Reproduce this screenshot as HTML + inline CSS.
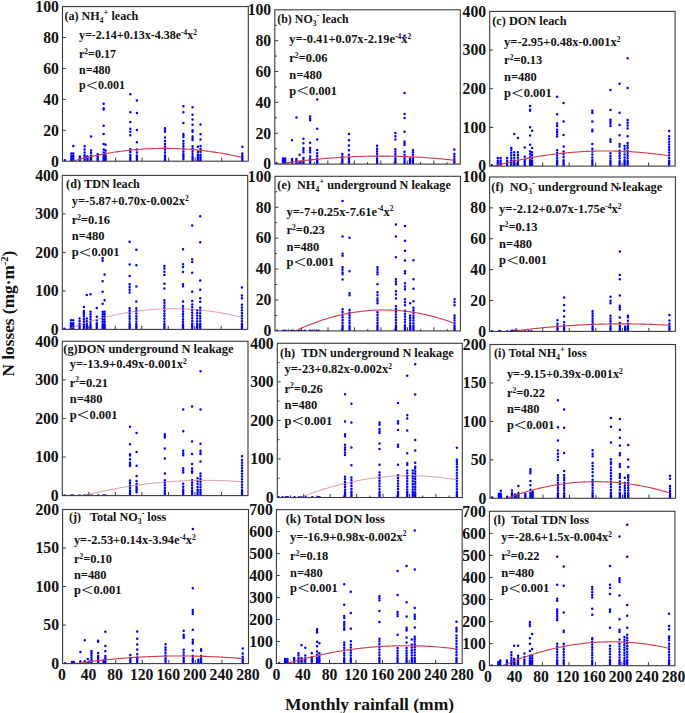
<!DOCTYPE html>
<html><head><meta charset="utf-8"><style>
html,body{margin:0;padding:0;background:#fff;width:685px;height:713px;overflow:hidden}
svg{display:block}
text{font-family:'Liberation Serif', serif;font-weight:bold;fill:#111}
</style></head><body>
<svg width="685" height="713" viewBox="0 0 685 713">
<clipPath id="cpa"><rect x="62.5" y="6.6" width="185.8" height="154.6"/></clipPath>
<g fill="#0000ff" clip-path="url(#cpa)"><path d="M64.82 160.27h0M71.39 161.00h0M71.39 158.62h0M71.39 156.05h0M71.39 153.47h0M71.39 161.00h0M71.39 159.53h0M71.39 157.87h0M71.39 156.20h0M73.32 146.05h0M73.32 161.00h0M73.32 158.62h0M73.32 156.05h0M73.32 153.47h0M73.32 161.00h0M73.32 159.53h0M73.32 157.87h0M73.32 156.20h0M79.89 161.00h0M79.89 158.88h0M79.89 156.56h0M79.89 161.00h0M79.89 159.65h0M79.89 158.11h0M79.89 156.56h0M84.60 146.20h0M84.60 161.00h0M84.60 158.26h0M84.60 155.33h0M84.60 152.39h0M84.60 149.45h0M84.60 161.00h0M84.60 159.53h0M84.60 157.87h0M84.60 156.20h0M87.38 161.00h0M87.38 158.88h0M87.38 156.56h0M87.38 161.00h0M87.38 159.65h0M87.38 158.11h0M87.38 156.56h0M91.10 136.46h0M91.10 161.00h0M91.10 158.49h0M91.10 155.79h0M91.10 153.08h0M91.10 150.38h0M91.10 161.00h0M91.10 159.53h0M91.10 157.87h0M91.10 156.20h0M97.67 161.00h0M97.67 158.88h0M97.67 156.56h0M97.67 154.24h0M97.67 161.00h0M97.67 159.53h0M97.67 157.87h0M97.67 156.20h0M103.64 103.84h0M103.64 108.17h0M103.64 109.56h0M103.64 125.64h0M103.64 133.99h0M103.64 143.88h0M103.64 161.00h0M103.64 158.26h0M103.64 155.33h0M103.64 152.39h0M103.64 149.45h0M103.64 161.00h0M103.64 159.53h0M103.64 157.87h0M103.64 156.20h0M105.63 144.81h0M105.63 150.53h0M105.63 161.00h0M105.63 158.62h0M105.63 156.05h0M105.63 153.47h0M105.63 161.00h0M105.63 159.53h0M105.63 157.87h0M105.63 156.20h0M130.32 94.26h0M130.32 112.35h0M130.32 122.09h0M130.32 128.73h0M130.32 131.67h0M130.32 135.23h0M130.32 160.89h0M130.32 157.95h0M130.32 155.02h0M130.32 152.08h0M130.32 149.14h0M130.32 160.89h0M130.32 159.22h0M130.32 157.56h0M130.32 155.89h0M136.89 100.44h0M136.89 112.96h0M136.89 129.97h0M136.89 142.18h0M136.89 161.00h0M136.89 158.30h0M136.89 155.40h0M136.89 152.50h0M136.89 149.60h0M136.89 161.00h0M136.89 159.53h0M136.89 157.87h0M136.89 156.20h0M165.02 128.27h0M165.02 130.28h0M165.02 131.83h0M165.02 137.55h0M165.02 161.00h0M165.02 158.33h0M165.02 155.46h0M165.02 152.59h0M165.02 149.72h0M165.02 146.84h0M165.02 143.97h0M165.02 141.10h0M165.02 161.00h0M165.02 159.53h0M165.02 157.87h0M165.02 156.20h0M183.40 106.32h0M183.40 112.35h0M183.40 123.01h0M183.40 133.99h0M183.40 135.54h0M183.40 137.08h0M183.40 159.19h0M183.40 156.61h0M183.40 154.02h0M183.40 151.44h0M183.40 148.85h0M183.40 146.27h0M183.40 143.69h0M183.40 141.10h0M183.40 159.19h0M183.40 157.52h0M183.40 155.86h0M183.40 154.19h0M192.56 107.24h0M192.56 114.82h0M192.56 119.46h0M192.56 124.71h0M192.56 130.28h0M192.56 131.83h0M192.56 136.46h0M192.56 138.32h0M192.56 140.02h0M192.56 161.00h0M192.56 158.70h0M192.56 156.20h0M192.56 153.70h0M192.56 151.20h0M192.56 148.70h0M192.56 146.20h0M192.56 161.00h0M192.56 159.53h0M192.56 157.87h0M192.56 156.20h0M197.87 146.67h0M197.87 160.58h0M197.87 157.70h0M197.87 154.81h0M197.87 151.92h0M197.87 160.58h0M197.87 158.91h0M197.87 157.25h0M197.87 155.58h0M200.52 124.41h0M200.52 134.14h0M200.52 139.56h0M200.52 160.58h0M200.52 157.68h0M200.52 154.77h0M200.52 151.86h0M200.52 148.96h0M200.52 146.05h0M200.52 160.58h0M200.52 158.91h0M200.52 157.25h0M200.52 155.58h0M242.33 146.67h0M242.33 160.58h0M242.33 158.26h0M242.33 155.94h0M242.33 153.62h0M242.33 160.58h0M242.33 158.91h0M242.33 157.25h0M242.33 155.58h0" fill="none" stroke="#0000ff" stroke-width="2.5" stroke-linecap="round"/></g>
<polyline clip-path="url(#cpa)" fill="none" stroke="#d23a44" stroke-width="1.1" points="64.82,163.43 66.30,162.99 67.78,162.55 69.27,162.12 70.75,161.70 72.23,161.28 73.71,160.87 75.19,160.47 76.67,160.07 78.15,159.68 79.63,159.30 81.11,158.92 82.59,158.55 84.07,158.19 85.55,157.83 87.04,157.48 88.52,157.13 90.00,156.80 91.48,156.47 92.96,156.14 94.44,155.83 95.92,155.51 97.40,155.21 98.88,154.91 100.36,154.62 101.84,154.34 103.33,154.06 104.81,153.79 106.29,153.53 107.77,153.27 109.25,153.02 110.73,152.77 112.21,152.53 113.69,152.30 115.17,152.08 116.65,151.86 118.13,151.65 119.61,151.44 121.10,151.25 122.58,151.05 124.06,150.87 125.54,150.69 127.02,150.52 128.50,150.35 129.98,150.20 131.46,150.04 132.94,149.90 134.42,149.76 135.90,149.63 137.39,149.50 138.87,149.39 140.35,149.27 141.83,149.17 143.31,149.07 144.79,148.98 146.27,148.89 147.75,148.81 149.23,148.74 150.71,148.67 152.19,148.62 153.67,148.56 155.16,148.52 156.64,148.48 158.12,148.45 159.60,148.42 161.08,148.40 162.56,148.39 164.04,148.38 165.52,148.38 167.00,148.39 168.48,148.40 169.96,148.42 171.45,148.45 172.93,148.48 174.41,148.52 175.89,148.57 177.37,148.62 178.85,148.69 180.33,148.75 181.81,148.83 183.29,148.91 184.77,148.99 186.25,149.09 187.73,149.18 189.22,149.29 190.70,149.40 192.18,149.52 193.66,149.65 195.14,149.78 196.62,149.92 198.10,150.07 199.58,150.22 201.06,150.38 202.54,150.55 204.02,150.72 205.51,150.90 206.99,151.09 208.47,151.28 209.95,151.48 211.43,151.68 212.91,151.90 214.39,152.11 215.87,152.34 217.35,152.57 218.83,152.81 220.31,153.06 221.79,153.31 223.28,153.57 224.76,153.83 226.24,154.11 227.72,154.38 229.20,154.67 230.68,154.96 232.16,155.26 233.64,155.57 235.12,155.88 236.60,156.20 238.08,156.52 239.57,156.85 241.05,157.19 242.53,157.54"/>
<rect x="62.5" y="6.6" width="185.80" height="154.60" fill="none" stroke="#3a3a3a" stroke-width="1.1"/>
<path d="M62.50 130.28h3.4M62.50 99.36h3.4M62.50 68.44h3.4M62.50 37.52h3.4M89.04 161.20v-3.6M115.59 161.20v-3.6M142.13 161.20v-3.6M168.67 161.20v-3.6M195.21 161.20v-3.6M221.76 161.20v-3.6" stroke="#3a3a3a" stroke-width="1" fill="none"/>
<text x="58.90" y="166.51" text-anchor="end" font-size="15.7">0</text>
<text x="58.90" y="135.59" text-anchor="end" font-size="15.7">20</text>
<text x="58.90" y="104.67" text-anchor="end" font-size="15.7">40</text>
<text x="58.90" y="73.75" text-anchor="end" font-size="15.7">60</text>
<text x="58.90" y="42.83" text-anchor="end" font-size="15.7">80</text>
<text x="58.90" y="11.91" text-anchor="end" font-size="15.7">100</text>
<text id="ta" x="64.4" y="19.60" font-size="12.1"><tspan>(a)</tspan><tspan> NH</tspan><tspan dy="3.15" font-size="7.5">4</tspan><tspan dy="-8.23" font-size="8.7">+</tspan><tspan dy="5.08"> leach</tspan></text>
<text id="ea" x="79" y="39.00" font-size="12.0"><tspan>y=-2.14+0.13x-4.38e</tspan><tspan dy="-4.08" font-size="7.5">-4</tspan><tspan dy="4.08">x</tspan><tspan dy="-4.08" font-size="7.5">2</tspan></text>
<text x="79" y="57.60" font-size="12.0"><tspan>r</tspan><tspan dy="-4.08" font-size="7.5">2</tspan><tspan dy="4.08">=0.17</tspan></text>
<text x="79" y="74.00" font-size="12.0">n=480</text>
<text x="79" y="89.2" font-size="12.0">p</text>
<path d="M96.83 81.76L87.47 85.48L96.83 89.20" fill="none" stroke="#111" stroke-width="0.9"/>
<text x="98.03" y="89.2" font-size="12.0">0.001</text>
<clipPath id="cpb"><rect x="274.8" y="9.8" width="185.5" height="154.29999999999998"/></clipPath>
<g fill="#0000ff" clip-path="url(#cpb)"><path d="M276.52 163.33h0M283.01 163.48h0M283.01 161.01h0M283.01 158.55h0M283.01 163.48h0M283.01 161.84h0M283.01 160.19h0M283.01 158.55h0M285.20 163.48h0M285.20 161.01h0M285.20 158.55h0M285.20 163.48h0M285.20 161.84h0M285.20 160.19h0M285.20 158.55h0M292.03 140.34h0M292.03 163.90h0M292.03 161.55h0M292.03 159.01h0M292.03 163.90h0M292.03 162.43h0M292.03 160.77h0M292.03 159.10h0M296.40 117.50h0M296.40 163.90h0M296.40 161.55h0M296.40 159.01h0M296.40 163.90h0M296.40 162.43h0M296.40 160.77h0M296.40 159.10h0M299.58 154.84h0M299.58 163.90h0M299.58 161.79h0M299.58 163.90h0M299.58 162.94h0M299.58 161.79h0M303.42 138.64h0M303.42 143.27h0M303.42 148.36h0M303.42 150.21h0M303.42 152.37h0M303.42 163.90h0M303.42 161.01h0M303.42 157.93h0M303.42 163.90h0M303.42 162.43h0M303.42 160.77h0M303.42 159.10h0M310.11 116.42h0M310.11 118.58h0M310.11 120.28h0M310.11 142.81h0M310.11 147.90h0M310.11 150.21h0M310.11 152.37h0M310.11 163.90h0M310.11 161.53h0M310.11 158.96h0M310.11 156.38h0M310.11 163.90h0M310.11 162.43h0M310.11 160.77h0M310.11 159.10h0M317.20 99.60h0M317.20 128.77h0M317.20 139.41h0M317.20 149.90h0M317.20 163.90h0M317.20 161.40h0M317.20 158.70h0M317.20 156.00h0M317.20 153.30h0M317.20 163.90h0M317.20 162.43h0M317.20 160.77h0M317.20 159.10h0M342.31 163.90h0M342.31 161.55h0M342.31 159.01h0M342.31 156.46h0M342.31 153.92h0M342.31 163.90h0M342.31 162.43h0M342.31 160.77h0M342.31 159.10h0M348.93 134.01h0M348.93 140.18h0M348.93 145.58h0M348.93 150.37h0M348.93 163.90h0M348.93 161.01h0M348.93 157.93h0M348.93 154.84h0M348.93 163.90h0M348.93 162.43h0M348.93 160.77h0M348.93 159.10h0M377.09 145.74h0M377.09 163.90h0M377.09 161.53h0M377.09 158.96h0M377.09 156.38h0M377.09 153.81h0M377.09 151.24h0M377.09 148.67h0M377.09 163.90h0M377.09 162.43h0M377.09 160.77h0M377.09 159.10h0M395.38 132.93h0M395.38 136.33h0M395.38 139.41h0M395.38 149.29h0M395.38 163.90h0M395.38 161.63h0M395.38 159.16h0M395.38 156.69h0M395.38 154.22h0M395.38 151.76h0M395.38 163.90h0M395.38 162.43h0M395.38 160.77h0M395.38 159.10h0M404.52 35.72h0M404.52 92.97h0M404.52 113.95h0M404.52 117.96h0M404.52 131.85h0M404.52 141.57h0M404.52 143.27h0M404.52 145.12h0M404.52 151.76h0M404.52 163.90h0M404.52 161.01h0M404.52 157.93h0M404.52 154.84h0M404.52 163.90h0M404.52 162.43h0M404.52 160.77h0M404.52 159.10h0M409.95 163.48h0M409.95 161.01h0M409.95 158.55h0M409.95 163.48h0M409.95 161.84h0M409.95 160.19h0M409.95 158.55h0M412.93 150.21h0M412.93 152.37h0M412.93 163.90h0M412.93 161.01h0M412.93 157.93h0M412.93 154.84h0M412.93 163.90h0M412.93 162.43h0M412.93 160.77h0M412.93 159.10h0M454.34 149.44h0M454.34 154.07h0M454.34 163.90h0M454.34 161.58h0M454.34 159.06h0M454.34 156.54h0M454.34 163.90h0M454.34 162.43h0M454.34 160.77h0M454.34 159.10h0" fill="none" stroke="#0000ff" stroke-width="2.5" stroke-linecap="round"/></g>
<polyline clip-path="url(#cpb)" fill="none" stroke="#d23a44" stroke-width="1.1" points="277.12,164.36 278.60,164.12 280.08,163.89 281.55,163.67 283.03,163.44 284.51,163.22 285.99,163.00 287.47,162.79 288.95,162.58 290.43,162.37 291.90,162.17 293.38,161.97 294.86,161.77 296.34,161.58 297.82,161.39 299.30,161.20 300.77,161.02 302.25,160.84 303.73,160.66 305.21,160.49 306.69,160.32 308.17,160.15 309.65,159.99 311.12,159.83 312.60,159.67 314.08,159.52 315.56,159.37 317.04,159.22 318.52,159.08 319.99,158.94 321.47,158.80 322.95,158.67 324.43,158.54 325.91,158.41 327.39,158.29 328.87,158.17 330.34,158.05 331.82,157.94 333.30,157.83 334.78,157.72 336.26,157.62 337.74,157.52 339.21,157.43 340.69,157.33 342.17,157.24 343.65,157.16 345.13,157.07 346.61,157.00 348.09,156.92 349.56,156.85 351.04,156.78 352.52,156.71 354.00,156.65 355.48,156.59 356.96,156.53 358.44,156.48 359.91,156.43 361.39,156.39 362.87,156.35 364.35,156.31 365.83,156.27 367.31,156.24 368.78,156.21 370.26,156.19 371.74,156.16 373.22,156.14 374.70,156.13 376.18,156.12 377.66,156.11 379.13,156.10 380.61,156.10 382.09,156.10 383.57,156.11 385.05,156.12 386.53,156.13 388.00,156.14 389.48,156.16 390.96,156.18 392.44,156.21 393.92,156.24 395.40,156.27 396.88,156.30 398.35,156.34 399.83,156.38 401.31,156.43 402.79,156.48 404.27,156.53 405.75,156.59 407.22,156.64 408.70,156.71 410.18,156.77 411.66,156.84 413.14,156.91 414.62,156.99 416.10,157.07 417.57,157.15 419.05,157.24 420.53,157.32 422.01,157.42 423.49,157.51 424.97,157.61 426.45,157.71 427.92,157.82 429.40,157.93 430.88,158.04 432.36,158.16 433.84,158.28 435.32,158.40 436.79,158.53 438.27,158.66 439.75,158.79 441.23,158.92 442.71,159.06 444.19,159.21 445.67,159.35 447.14,159.50 448.62,159.66 450.10,159.81 451.58,159.97 453.06,160.13 454.54,160.30"/>
<rect x="274.8" y="9.8" width="185.50" height="154.30" fill="none" stroke="#3a3a3a" stroke-width="1.1"/>
<path d="M274.80 148.67h2.2M274.80 133.24h3.4M274.80 117.81h2.2M274.80 102.38h3.4M274.80 86.95h2.2M274.80 71.52h3.4M274.80 56.09h2.2M274.80 40.66h3.4M274.80 25.23h2.2M288.05 164.10v-2.0M301.30 164.10v-3.6M314.55 164.10v-2.0M327.80 164.10v-3.6M341.05 164.10v-2.0M354.30 164.10v-3.6M367.55 164.10v-2.0M380.80 164.10v-3.6M394.05 164.10v-2.0M407.30 164.10v-3.6M420.55 164.10v-2.0M433.80 164.10v-3.6M447.05 164.10v-2.0" stroke="#3a3a3a" stroke-width="1" fill="none"/>
<text x="271.20" y="169.41" text-anchor="end" font-size="15.7">0</text>
<text x="271.20" y="138.55" text-anchor="end" font-size="15.7">20</text>
<text x="271.20" y="107.69" text-anchor="end" font-size="15.7">40</text>
<text x="271.20" y="76.83" text-anchor="end" font-size="15.7">60</text>
<text x="271.20" y="45.97" text-anchor="end" font-size="15.7">80</text>
<text x="271.20" y="15.11" text-anchor="end" font-size="15.7">100</text>
<text id="tb" x="277.3" y="22.50" font-size="11.9"><tspan>(b)</tspan><tspan> NO</tspan><tspan dy="3.09" font-size="7.5">3</tspan><tspan dy="-8.09" font-size="8.6">-</tspan><tspan dy="5.00"> leach</tspan></text>
<text id="eb" x="289.3" y="43.40" font-size="12.45"><tspan>y=-0.41+0.07x-2.19e</tspan><tspan dy="-4.23" font-size="7.5">-4</tspan><tspan dy="4.23">x</tspan><tspan dy="-4.23" font-size="7.5">2</tspan></text>
<text x="289.3" y="62.00" font-size="12.45"><tspan>r</tspan><tspan dy="-4.23" font-size="7.5">2</tspan><tspan dy="4.23">=0.06</tspan></text>
<text x="289.3" y="78.60" font-size="12.45">n=480</text>
<text x="289.3" y="94.5" font-size="12.45">p</text>
<path d="M307.73 86.78L298.02 90.64L307.73 94.50" fill="none" stroke="#111" stroke-width="0.9"/>
<text x="308.93" y="94.5" font-size="12.45">0.001</text>
<clipPath id="cpc"><rect x="489.7" y="11.4" width="185.40000000000003" height="154.7"/></clipPath>
<g fill="#0000ff" clip-path="url(#cpc)"><path d="M491.82 165.33h0M497.78 165.90h0M497.78 163.39h0M497.78 160.69h0M497.78 157.98h0M497.78 165.90h0M497.78 164.43h0M497.78 162.77h0M497.78 161.10h0M500.63 165.90h0M500.63 163.39h0M500.63 160.69h0M500.63 157.98h0M500.63 165.90h0M500.63 164.43h0M500.63 162.77h0M500.63 161.10h0M507.11 165.90h0M507.11 163.39h0M507.11 160.69h0M507.11 157.98h0M507.11 165.90h0M507.11 164.43h0M507.11 162.77h0M507.11 161.10h0M511.29 148.00h0M511.29 165.90h0M511.29 163.46h0M511.29 160.81h0M511.29 158.17h0M511.29 155.53h0M511.29 152.89h0M511.29 150.24h0M511.29 165.90h0M511.29 164.43h0M511.29 162.77h0M511.29 161.10h0M514.27 134.12h0M514.27 165.90h0M514.27 163.32h0M514.27 160.53h0M514.27 157.75h0M514.27 154.96h0M514.27 152.18h0M514.27 165.90h0M514.27 164.43h0M514.27 162.77h0M514.27 161.10h0M517.91 137.91h0M517.91 165.90h0M517.91 163.32h0M517.91 160.53h0M517.91 157.75h0M517.91 154.96h0M517.91 152.18h0M517.91 165.90h0M517.91 164.43h0M517.91 162.77h0M517.91 161.10h0M524.73 147.42h0M524.73 165.90h0M524.73 163.01h0M524.73 159.91h0M524.73 156.82h0M524.73 165.90h0M524.73 164.43h0M524.73 162.77h0M524.73 161.10h0M530.09 105.92h0M530.09 109.63h0M530.09 110.79h0M530.09 127.23h0M530.09 135.39h0M530.09 144.71h0M530.09 165.90h0M530.09 163.16h0M530.09 160.22h0M530.09 157.28h0M530.09 154.34h0M530.09 151.40h0M530.09 165.90h0M530.09 164.43h0M530.09 162.77h0M530.09 161.10h0M532.08 130.71h0M532.08 148.00h0M532.08 165.90h0M532.08 163.32h0M532.08 160.53h0M532.08 157.75h0M532.08 154.96h0M532.08 152.18h0M532.08 165.90h0M532.08 164.43h0M532.08 162.77h0M532.08 161.10h0M557.11 96.72h0M557.11 114.20h0M557.11 123.56h0M557.11 125.88h0M557.11 129.75h0M557.11 132.07h0M557.11 134.39h0M557.11 136.51h0M557.11 165.90h0M557.11 163.46h0M557.11 160.81h0M557.11 158.17h0M557.11 155.53h0M557.11 152.89h0M557.11 150.24h0M557.11 165.90h0M557.11 164.43h0M557.11 162.77h0M557.11 161.10h0M563.60 102.91h0M563.60 121.39h0M563.60 135.01h0M563.60 146.41h0M563.60 165.90h0M563.60 163.16h0M563.60 160.22h0M563.60 157.28h0M563.60 154.34h0M563.60 151.40h0M563.60 165.90h0M563.60 164.43h0M563.60 162.77h0M563.60 161.10h0M592.33 110.79h0M592.33 113.12h0M592.33 121.39h0M592.33 129.75h0M592.33 131.29h0M592.33 144.09h0M592.33 165.90h0M592.33 163.20h0M592.33 160.30h0M592.33 157.40h0M592.33 154.50h0M592.33 151.60h0M592.33 148.70h0M592.33 165.90h0M592.33 164.43h0M592.33 162.77h0M592.33 161.10h0M610.47 90.03h0M610.47 110.02h0M610.47 119.69h0M610.47 121.62h0M610.47 123.56h0M610.47 125.88h0M610.47 139.41h0M610.47 141.73h0M610.47 165.90h0M610.47 163.55h0M610.47 160.99h0M610.47 158.44h0M610.47 155.89h0M610.47 153.34h0M610.47 165.90h0M610.47 164.43h0M610.47 162.77h0M610.47 161.10h0M619.61 83.72h0M619.61 112.73h0M619.61 125.10h0M619.61 135.16h0M619.61 144.06h0M619.61 146.38h0M619.61 165.90h0M619.61 163.52h0M619.61 160.94h0M619.61 158.37h0M619.61 155.79h0M619.61 153.21h0M619.61 150.63h0M619.61 165.90h0M619.61 164.43h0M619.61 162.77h0M619.61 161.10h0M624.58 145.99h0M624.58 165.90h0M624.58 163.20h0M624.58 160.30h0M624.58 157.40h0M624.58 154.50h0M624.58 151.60h0M624.58 148.70h0M624.58 165.90h0M624.58 164.43h0M624.58 162.77h0M624.58 161.10h0M627.62 58.31h0M627.62 87.98h0M627.62 120.08h0M627.62 122.78h0M627.62 125.49h0M627.62 128.59h0M627.62 136.32h0M627.62 165.90h0M627.62 163.52h0M627.62 160.94h0M627.62 158.36h0M627.62 155.79h0M627.62 153.21h0M627.62 150.63h0M627.62 148.05h0M627.62 145.47h0M627.62 142.89h0M627.62 165.90h0M627.62 164.43h0M627.62 162.77h0M627.62 161.10h0M669.14 130.91h0M669.14 165.90h0M669.14 163.39h0M669.14 160.69h0M669.14 157.98h0M669.14 155.27h0M669.14 152.56h0M669.14 149.86h0M669.14 147.15h0M669.14 144.44h0M669.14 141.73h0M669.14 139.03h0M669.14 136.32h0M669.14 165.90h0M669.14 164.43h0M669.14 162.77h0M669.14 161.10h0" fill="none" stroke="#0000ff" stroke-width="2.5" stroke-linecap="round"/></g>
<polyline clip-path="url(#cpc)" fill="none" stroke="#d23a44" stroke-width="1.1" points="492.02,166.60 493.50,166.19 494.97,165.80 496.45,165.40 497.93,165.02 499.41,164.63 500.88,164.26 502.36,163.88 503.84,163.52 505.32,163.16 506.79,162.80 508.27,162.45 509.75,162.11 511.23,161.77 512.71,161.43 514.18,161.10 515.66,160.78 517.14,160.46 518.62,160.14 520.09,159.84 521.57,159.53 523.05,159.24 524.53,158.94 526.00,158.66 527.48,158.37 528.96,158.10 530.44,157.83 531.91,157.56 533.39,157.30 534.87,157.04 536.35,156.79 537.83,156.55 539.30,156.31 540.78,156.07 542.26,155.84 543.74,155.62 545.21,155.40 546.69,155.19 548.17,154.98 549.65,154.78 551.12,154.58 552.60,154.39 554.08,154.20 555.56,154.02 557.04,153.84 558.51,153.67 559.99,153.50 561.47,153.34 562.95,153.19 564.42,153.04 565.90,152.89 567.38,152.75 568.86,152.62 570.33,152.49 571.81,152.37 573.29,152.25 574.77,152.14 576.25,152.03 577.72,151.93 579.20,151.83 580.68,151.74 582.16,151.65 583.63,151.57 585.11,151.49 586.59,151.42 588.07,151.36 589.54,151.30 591.02,151.24 592.50,151.19 593.98,151.15 595.46,151.11 596.93,151.07 598.41,151.04 599.89,151.02 601.37,151.00 602.84,150.99 604.32,150.98 605.80,150.98 607.28,150.98 608.75,150.99 610.23,151.01 611.71,151.02 613.19,151.05 614.67,151.08 616.14,151.11 617.62,151.15 619.10,151.20 620.58,151.25 622.05,151.30 623.53,151.36 625.01,151.43 626.49,151.50 627.96,151.58 629.44,151.66 630.92,151.75 632.40,151.84 633.87,151.94 635.35,152.04 636.83,152.15 638.31,152.27 639.79,152.38 641.26,152.51 642.74,152.64 644.22,152.77 645.70,152.91 647.17,153.06 648.65,153.21 650.13,153.37 651.61,153.53 653.08,153.69 654.56,153.87 656.04,154.04 657.52,154.23 659.00,154.41 660.47,154.61 661.95,154.80 663.43,155.01 664.91,155.22 666.38,155.43 667.86,155.65 669.34,155.88"/>
<rect x="489.7" y="11.4" width="185.40" height="154.70" fill="none" stroke="#3a3a3a" stroke-width="1.1"/>
<path d="M489.70 127.42h3.4M489.70 88.75h3.4M489.70 50.07h3.4M516.19 166.10v-3.6M542.67 166.10v-3.6M569.16 166.10v-3.6M595.64 166.10v-3.6M622.13 166.10v-3.6M648.61 166.10v-3.6" stroke="#3a3a3a" stroke-width="1" fill="none"/>
<text x="486.10" y="171.41" text-anchor="end" font-size="15.7">0</text>
<text x="486.10" y="132.73" text-anchor="end" font-size="15.7">100</text>
<text x="486.10" y="94.06" text-anchor="end" font-size="15.7">200</text>
<text x="486.10" y="55.38" text-anchor="end" font-size="15.7">300</text>
<text x="486.10" y="16.71" text-anchor="end" font-size="15.7">400</text>
<text id="tc" x="492.2" y="25.00" font-size="12.3"><tspan>(c) DON leach</tspan></text>
<text id="ec" x="504.1" y="46.20" font-size="12.45"><tspan>y=-2.95+0.48x-0.001x</tspan><tspan dy="-4.23" font-size="7.5">2</tspan></text>
<text x="504.1" y="64.20" font-size="12.45"><tspan>r</tspan><tspan dy="-4.23" font-size="7.5">2</tspan><tspan dy="4.23">=0.13</tspan></text>
<text x="504.1" y="80.60" font-size="12.45">n=480</text>
<text x="504.1" y="97.0" font-size="12.45">p</text>
<path d="M522.53 89.28L512.82 93.14L522.53 97.00" fill="none" stroke="#111" stroke-width="0.9"/>
<text x="523.73" y="97.0" font-size="12.45">0.001</text>
<clipPath id="cpd"><rect x="62.3" y="175.4" width="185.39999999999998" height="153.99999999999997"/></clipPath>
<g fill="#0000ff" clip-path="url(#cpd)"><path d="M64.42 328.63h0M70.91 329.20h0M70.91 326.32h0M70.91 323.24h0M70.91 320.16h0M70.91 329.20h0M70.91 327.73h0M70.91 326.07h0M70.91 324.40h0M73.23 329.20h0M73.23 326.32h0M73.23 323.24h0M73.23 320.16h0M73.23 329.20h0M73.23 327.73h0M73.23 326.07h0M73.23 324.40h0M79.58 329.20h0M79.58 326.70h0M79.58 324.01h0M79.58 321.31h0M79.58 318.62h0M79.58 329.20h0M79.58 327.73h0M79.58 326.07h0M79.58 324.40h0M83.89 306.92h0M83.89 310.92h0M83.89 312.84h0M83.89 314.38h0M83.89 329.20h0M83.89 326.83h0M83.89 324.27h0M83.89 321.70h0M83.89 319.13h0M83.89 316.57h0M83.89 314.00h0M83.89 329.20h0M83.89 327.73h0M83.89 326.07h0M83.89 324.40h0M86.80 294.90h0M86.80 329.20h0M86.80 326.70h0M86.80 324.01h0M86.80 321.31h0M86.80 318.62h0M86.80 329.20h0M86.80 327.73h0M86.80 326.07h0M86.80 324.40h0M90.51 294.29h0M90.51 329.20h0M90.51 326.87h0M90.51 324.34h0M90.51 321.81h0M90.51 319.28h0M90.51 316.75h0M90.51 314.22h0M90.51 311.69h0M90.51 329.20h0M90.51 327.73h0M90.51 326.07h0M90.51 324.40h0M96.80 308.11h0M96.80 316.69h0M96.80 329.20h0M96.80 326.32h0M96.80 323.24h0M96.80 320.16h0M96.80 329.20h0M96.80 327.73h0M96.80 326.07h0M96.80 324.40h0M102.62 258.17h0M102.62 260.87h0M102.62 281.27h0M102.62 291.67h0M102.62 303.72h0M102.62 329.20h0M102.62 326.87h0M102.62 324.34h0M102.62 321.81h0M102.62 319.28h0M102.62 316.75h0M102.62 314.22h0M102.62 311.69h0M102.62 329.20h0M102.62 327.73h0M102.62 326.07h0M102.62 324.40h0M104.61 274.42h0M104.61 300.29h0M104.61 329.20h0M104.61 326.87h0M104.61 324.34h0M104.61 321.81h0M104.61 319.28h0M104.61 316.75h0M104.61 314.22h0M104.61 311.69h0M104.61 329.20h0M104.61 327.73h0M104.61 326.07h0M104.61 324.40h0M129.64 241.70h0M129.64 264.41h0M129.64 275.92h0M129.64 284.36h0M129.64 287.05h0M129.64 289.75h0M129.64 292.59h0M129.64 329.20h0M129.64 326.75h0M129.64 324.11h0M129.64 321.46h0M129.64 318.81h0M129.64 316.17h0M129.64 313.52h0M129.64 310.87h0M129.64 308.22h0M129.64 329.20h0M129.64 327.73h0M129.64 326.07h0M129.64 324.40h0M136.33 249.70h0M136.33 265.18h0M136.33 286.51h0M136.33 301.49h0M136.33 329.20h0M136.33 326.75h0M136.33 324.11h0M136.33 321.46h0M136.33 318.81h0M136.33 316.17h0M136.33 313.52h0M136.33 310.87h0M136.33 308.22h0M136.33 329.20h0M136.33 327.73h0M136.33 326.07h0M136.33 324.40h0M164.40 265.88h0M164.40 268.57h0M164.40 271.65h0M164.40 275.12h0M164.40 283.70h0M164.40 288.59h0M164.40 329.20h0M164.40 326.74h0M164.40 324.08h0M164.40 321.42h0M164.40 318.76h0M164.40 316.10h0M164.40 313.44h0M164.40 310.78h0M164.40 308.12h0M164.40 305.46h0M164.40 302.80h0M164.40 300.14h0M164.40 329.20h0M164.40 327.73h0M164.40 326.07h0M164.40 324.40h0M183.01 249.13h0M183.01 264.33h0M183.01 267.03h0M183.01 271.92h0M183.01 284.36h0M183.01 286.28h0M183.01 301.49h0M183.01 329.20h0M183.01 326.83h0M183.01 324.27h0M183.01 321.70h0M183.01 319.13h0M183.01 316.57h0M183.01 314.00h0M183.01 311.43h0M183.01 308.87h0M183.01 306.30h0M183.01 329.20h0M183.01 327.73h0M183.01 326.07h0M183.01 324.40h0M192.21 225.60h0M192.21 259.33h0M192.21 262.02h0M192.21 272.81h0M192.21 291.67h0M192.21 300.91h0M192.21 329.20h0M192.21 326.62h0M192.21 323.84h0M192.21 321.06h0M192.21 318.28h0M192.21 315.50h0M192.21 312.72h0M192.21 309.94h0M192.21 307.16h0M192.21 304.38h0M192.21 329.20h0M192.21 327.73h0M192.21 326.07h0M192.21 324.40h0M197.18 329.20h0M197.18 326.65h0M197.18 323.90h0M197.18 321.15h0M197.18 318.40h0M197.18 315.65h0M197.18 312.90h0M197.18 310.15h0M197.18 329.20h0M197.18 327.73h0M197.18 326.07h0M197.18 324.40h0M200.22 216.33h0M200.22 242.20h0M200.22 280.62h0M200.22 289.75h0M200.22 298.21h0M200.22 301.68h0M200.22 329.20h0M200.22 326.70h0M200.22 324.01h0M200.22 321.31h0M200.22 318.62h0M200.22 315.92h0M200.22 313.23h0M200.22 310.53h0M200.22 307.84h0M200.22 329.20h0M200.22 327.73h0M200.22 326.07h0M200.22 324.40h0M241.94 287.59h0M241.94 295.52h0M241.94 298.21h0M241.94 329.20h0M241.94 326.66h0M241.94 323.92h0M241.94 321.19h0M241.94 318.45h0M241.94 315.71h0M241.94 312.97h0M241.94 310.24h0M241.94 307.50h0M241.94 304.76h0M241.94 329.20h0M241.94 327.73h0M241.94 326.07h0M241.94 324.40h0" fill="none" stroke="#0000ff" stroke-width="2.5" stroke-linecap="round"/></g>
<polyline clip-path="url(#cpd)" fill="none" stroke="#c97a7a" stroke-width="0.75" points="64.62,330.45 66.10,329.86 67.57,329.29 69.05,328.72 70.53,328.15 72.01,327.60 73.48,327.05 74.96,326.51 76.44,325.98 77.92,325.46 79.39,324.95 80.87,324.44 82.35,323.94 83.83,323.45 85.31,322.97 86.78,322.50 88.26,322.03 89.74,321.57 91.22,321.12 92.69,320.68 94.17,320.25 95.65,319.82 97.13,319.40 98.60,318.99 100.08,318.59 101.56,318.20 103.04,317.81 104.51,317.43 105.99,317.06 107.47,316.70 108.95,316.35 110.43,316.00 111.90,315.66 113.38,315.33 114.86,315.01 116.34,314.70 117.81,314.39 119.29,314.09 120.77,313.80 122.25,313.52 123.72,313.25 125.20,312.98 126.68,312.73 128.16,312.48 129.64,312.24 131.11,312.00 132.59,311.78 134.07,311.56 135.55,311.35 137.02,311.15 138.50,310.95 139.98,310.77 141.46,310.59 142.93,310.42 144.41,310.26 145.89,310.11 147.37,309.96 148.85,309.82 150.32,309.69 151.80,309.57 153.28,309.46 154.76,309.35 156.23,309.26 157.71,309.17 159.19,309.09 160.67,309.01 162.14,308.95 163.62,308.89 165.10,308.84 166.58,308.80 168.06,308.77 169.53,308.74 171.01,308.73 172.49,308.72 173.97,308.72 175.44,308.72 176.92,308.74 178.40,308.76 179.88,308.79 181.35,308.83 182.83,308.88 184.31,308.93 185.79,309.00 187.27,309.07 188.74,309.15 190.22,309.23 191.70,309.33 193.18,309.43 194.65,309.54 196.13,309.66 197.61,309.79 199.09,309.93 200.56,310.07 202.04,310.22 203.52,310.38 205.00,310.55 206.47,310.72 207.95,310.91 209.43,311.10 210.91,311.30 212.39,311.50 213.86,311.72 215.34,311.94 216.82,312.17 218.30,312.41 219.77,312.66 221.25,312.92 222.73,313.18 224.21,313.45 225.68,313.73 227.16,314.02 228.64,314.32 230.12,314.62 231.60,314.93 233.07,315.25 234.55,315.58 236.03,315.91 237.51,316.26 238.98,316.61 240.46,316.97 241.94,317.34"/>
<rect x="62.3" y="175.4" width="185.40" height="154.00" fill="none" stroke="#3a3a3a" stroke-width="1.1"/>
<path d="M62.30 290.90h3.4M62.30 252.40h3.4M62.30 213.90h3.4M88.79 329.40v-3.6M115.27 329.40v-3.6M141.76 329.40v-3.6M168.24 329.40v-3.6M194.73 329.40v-3.6M221.21 329.40v-3.6" stroke="#3a3a3a" stroke-width="1" fill="none"/>
<text x="58.70" y="334.71" text-anchor="end" font-size="15.7">0</text>
<text x="58.70" y="296.21" text-anchor="end" font-size="15.7">100</text>
<text x="58.70" y="257.71" text-anchor="end" font-size="15.7">200</text>
<text x="58.70" y="219.21" text-anchor="end" font-size="15.7">300</text>
<text x="58.70" y="180.71" text-anchor="end" font-size="15.7">400</text>
<text id="td" x="66.1" y="187.90" font-size="12.2"><tspan>(d) TDN leach</tspan></text>
<text id="ed" x="71.7" y="205.20" font-size="12.5"><tspan>y=-5.87+0.70x-0.002x</tspan><tspan dy="-4.25" font-size="7.5">2</tspan></text>
<text x="71.7" y="223.80" font-size="12.5"><tspan>r</tspan><tspan dy="-4.25" font-size="7.5">2</tspan><tspan dy="4.25">=0.16</tspan></text>
<text x="71.7" y="240.40" font-size="12.5">n=480</text>
<text x="71.7" y="256.3" font-size="12.5">p</text>
<path d="M90.20 248.55L80.45 252.43L90.20 256.30" fill="none" stroke="#111" stroke-width="0.9"/>
<text x="91.40" y="256.3" font-size="12.5">0.001</text>
<clipPath id="cpe"><rect x="275.0" y="176.3" width="185.5" height="154.59999999999997"/></clipPath>
<g fill="#0000ff" clip-path="url(#cpe)"><path d="M276.92 330.70h0M283.28 330.70h0M285.60 330.70h0M291.43 330.70h0M293.22 330.70h0M298.98 330.70h0M301.50 330.70h0M304.81 330.70h0M310.11 330.70h0M312.43 330.70h0M316.74 330.70h0M318.73 330.70h0M342.57 201.04h0M342.57 236.59h0M342.57 253.75h0M342.57 255.76h0M342.57 267.20h0M342.57 269.83h0M342.57 272.46h0M342.57 274.16h0M342.57 279.57h0M342.57 330.70h0M342.57 328.19h0M342.57 325.49h0M342.57 322.78h0M342.57 320.08h0M342.57 317.37h0M342.57 314.67h0M342.57 311.96h0M342.57 309.26h0M342.57 330.70h0M342.57 329.23h0M342.57 327.57h0M342.57 325.90h0M349.53 237.68h0M349.53 271.22h0M349.53 293.33h0M349.53 295.34h0M349.53 330.70h0M349.53 328.29h0M349.53 325.68h0M349.53 323.07h0M349.53 320.46h0M349.53 317.86h0M349.53 315.25h0M349.53 312.64h0M349.53 310.03h0M349.53 330.70h0M349.53 329.23h0M349.53 327.57h0M349.53 325.90h0M377.49 267.20h0M377.49 269.83h0M377.49 272.15h0M377.49 274.16h0M377.49 284.37h0M377.49 292.25h0M377.49 295.34h0M377.49 298.43h0M377.49 300.75h0M377.49 303.23h0M377.49 330.70h0M377.49 328.25h0M377.49 325.60h0M377.49 322.95h0M377.49 320.30h0M377.49 317.65h0M377.49 315.00h0M377.49 312.35h0M377.49 330.70h0M377.49 329.23h0M377.49 327.57h0M377.49 325.90h0M395.91 224.54h0M395.91 236.59h0M395.91 257.16h0M395.91 279.26h0M395.91 281.74h0M395.91 284.37h0M395.91 291.32h0M395.91 294.57h0M395.91 298.43h0M395.91 330.70h0M395.91 328.15h0M395.91 325.40h0M395.91 322.65h0M395.91 319.91h0M395.91 317.16h0M395.91 314.41h0M395.91 311.66h0M395.91 308.91h0M395.91 306.16h0M395.91 330.70h0M395.91 329.23h0M395.91 327.57h0M395.91 325.90h0M404.98 226.08h0M404.98 240.77h0M404.98 250.66h0M404.98 260.56h0M404.98 271.22h0M404.98 273.23h0M404.98 283.28h0M404.98 286.38h0M404.98 289.31h0M404.98 299.36h0M404.98 302.30h0M404.98 305.24h0M404.98 330.70h0M404.98 328.03h0M404.98 325.16h0M404.98 322.29h0M404.98 319.42h0M404.98 316.54h0M404.98 313.67h0M404.98 310.80h0M404.98 330.70h0M404.98 329.23h0M404.98 327.57h0M404.98 325.90h0M410.15 303.23h0M410.15 330.70h0M410.15 328.32h0M410.15 325.75h0M410.15 323.17h0M410.15 320.59h0M410.15 318.02h0M410.15 315.44h0M410.15 330.70h0M410.15 329.23h0M410.15 327.57h0M410.15 325.90h0M413.46 260.25h0M413.46 279.26h0M413.46 288.69h0M413.46 301.37h0M413.46 330.70h0M413.46 328.32h0M413.46 325.75h0M413.46 323.17h0M413.46 320.59h0M413.46 318.02h0M413.46 315.44h0M413.46 312.86h0M413.46 310.29h0M413.46 307.71h0M413.46 330.70h0M413.46 329.23h0M413.46 327.57h0M413.46 325.90h0M454.54 299.36h0M454.54 302.30h0M454.54 305.24h0M454.54 330.70h0M454.54 328.32h0M454.54 325.75h0M454.54 323.17h0M454.54 320.59h0M454.54 318.02h0M454.54 315.44h0M454.54 330.70h0M454.54 329.23h0M454.54 327.57h0M454.54 325.90h0" fill="none" stroke="#0000ff" stroke-width="2.5" stroke-linecap="round"/></g>
<polyline clip-path="url(#cpe)" fill="none" stroke="#d23a44" stroke-width="1.1" points="277.32,340.38 278.80,339.55 280.28,338.72 281.75,337.90 283.23,337.10 284.71,336.31 286.19,335.53 287.67,334.76 289.15,334.01 290.63,333.26 292.10,332.53 293.58,331.81 295.06,331.10 296.54,330.40 298.02,329.71 299.50,329.04 300.97,328.38 302.45,327.73 303.93,327.09 305.41,326.46 306.89,325.84 308.37,325.24 309.85,324.65 311.32,324.07 312.80,323.50 314.28,322.94 315.76,322.40 317.24,321.86 318.72,321.34 320.19,320.83 321.67,320.33 323.15,319.85 324.63,319.37 326.11,318.91 327.59,318.46 329.07,318.02 330.54,317.59 332.02,317.17 333.50,316.77 334.98,316.37 336.46,315.99 337.94,315.62 339.41,315.26 340.89,314.92 342.37,314.58 343.85,314.26 345.33,313.95 346.81,313.65 348.29,313.36 349.76,313.09 351.24,312.82 352.72,312.57 354.20,312.33 355.68,312.10 357.16,311.89 358.64,311.68 360.11,311.49 361.59,311.30 363.07,311.13 364.55,310.97 366.03,310.83 367.51,310.69 368.98,310.57 370.46,310.46 371.94,310.36 373.42,310.27 374.90,310.19 376.38,310.13 377.86,310.07 379.33,310.03 380.81,310.00 382.29,309.99 383.77,309.98 385.25,309.98 386.73,310.00 388.20,310.03 389.68,310.07 391.16,310.12 392.64,310.19 394.12,310.26 395.60,310.35 397.08,310.45 398.55,310.56 400.03,310.68 401.51,310.82 402.99,310.96 404.47,311.12 405.95,311.29 407.42,311.47 408.90,311.67 410.38,311.87 411.86,312.09 413.34,312.31 414.82,312.55 416.30,312.81 417.77,313.07 419.25,313.34 420.73,313.63 422.21,313.93 423.69,314.24 425.17,314.56 426.65,314.90 428.12,315.24 429.60,315.60 431.08,315.97 432.56,316.35 434.04,316.74 435.52,317.14 436.99,317.56 438.47,317.99 439.95,318.42 441.43,318.88 442.91,319.34 444.39,319.81 445.87,320.30 447.34,320.80 448.82,321.31 450.30,321.83 451.78,322.36 453.26,322.90 454.74,323.46"/>
<rect x="275.0" y="176.3" width="185.50" height="154.60" fill="none" stroke="#3a3a3a" stroke-width="1.1"/>
<path d="M275.00 315.44h2.2M275.00 299.98h3.4M275.00 284.52h2.2M275.00 269.06h3.4M275.00 253.60h2.2M275.00 238.14h3.4M275.00 222.68h2.2M275.00 207.22h3.4M275.00 191.76h2.2M288.25 330.90v-2.0M301.50 330.90v-3.6M314.75 330.90v-2.0M328.00 330.90v-3.6M341.25 330.90v-2.0M354.50 330.90v-3.6M367.75 330.90v-2.0M381.00 330.90v-3.6M394.25 330.90v-2.0M407.50 330.90v-3.6M420.75 330.90v-2.0M434.00 330.90v-3.6M447.25 330.90v-2.0" stroke="#3a3a3a" stroke-width="1" fill="none"/>
<text x="271.40" y="336.21" text-anchor="end" font-size="15.7">0</text>
<text x="271.40" y="305.29" text-anchor="end" font-size="15.7">20</text>
<text x="271.40" y="274.37" text-anchor="end" font-size="15.7">40</text>
<text x="271.40" y="243.45" text-anchor="end" font-size="15.7">60</text>
<text x="271.40" y="212.53" text-anchor="end" font-size="15.7">80</text>
<text x="271.40" y="181.61" text-anchor="end" font-size="15.7">100</text>
<text id="te" x="277.3" y="189.00" font-size="12.25"><tspan>(e)  NH</tspan><tspan dy="3.19" font-size="7.6">4</tspan><tspan dy="-8.33" font-size="8.8">+</tspan><tspan dy="5.14"> underground N leakage</tspan></text>
<text id="ee" x="286.5" y="215.70" font-size="12.5"><tspan>y=-7+0.25x-7.61e</tspan><tspan dy="-4.25" font-size="7.5">-4</tspan><tspan dy="4.25">x</tspan><tspan dy="-4.25" font-size="7.5">2</tspan></text>
<text x="286.5" y="234.30" font-size="12.5"><tspan>r</tspan><tspan dy="-4.25" font-size="7.5">2</tspan><tspan dy="4.25">=0.23</tspan></text>
<text x="286.5" y="251.00" font-size="12.5">n=480</text>
<text x="286.5" y="266.0" font-size="12.5">p</text>
<path d="M305.00 258.25L295.25 262.12L305.00 266.00" fill="none" stroke="#111" stroke-width="0.9"/>
<text x="306.20" y="266.0" font-size="12.5">0.001</text>
<clipPath id="cpf"><rect x="489.6" y="177.0" width="185.79999999999995" height="154.39999999999998"/></clipPath>
<g fill="#0000ff" clip-path="url(#cpf)"><path d="M492.12 331.20h0M499.09 331.20h0M500.28 331.20h0M507.32 331.20h0M511.43 330.63h0M513.09 330.63h0M515.55 330.63h0M517.27 330.63h0M524.77 331.20h0M528.49 331.20h0M531.40 331.20h0M557.48 320.13h0M557.48 331.20h0M557.48 328.83h0M557.48 326.25h0M557.48 323.68h0M557.48 331.20h0M557.48 329.73h0M557.48 328.07h0M557.48 326.40h0M564.12 297.59h0M564.12 305.00h0M564.12 310.86h0M564.12 316.58h0M564.12 331.20h0M564.12 328.31h0M564.12 325.22h0M564.12 322.14h0M564.12 331.20h0M564.12 329.73h0M564.12 328.07h0M564.12 326.40h0M592.59 311.17h0M592.59 331.20h0M592.59 328.86h0M592.59 326.33h0M592.59 323.79h0M592.59 321.25h0M592.59 318.72h0M592.59 316.18h0M592.59 313.64h0M592.59 331.20h0M592.59 329.73h0M592.59 328.07h0M592.59 326.40h0M610.50 296.81h0M610.50 300.83h0M610.50 303.14h0M610.50 315.81h0M610.50 331.20h0M610.50 328.81h0M610.50 326.21h0M610.50 323.62h0M610.50 321.02h0M610.50 318.43h0M610.50 331.20h0M610.50 329.73h0M610.50 328.07h0M610.50 326.40h0M619.79 188.27h0M619.79 251.42h0M619.79 275.04h0M619.79 279.37h0M619.79 295.58h0M619.79 305.77h0M619.79 307.62h0M619.79 309.48h0M619.79 317.50h0M619.79 331.20h0M619.79 328.57h0M619.79 325.74h0M619.79 322.91h0M619.79 331.20h0M619.79 329.73h0M619.79 328.07h0M619.79 326.40h0M625.10 331.20h0M625.10 329.08h0M625.10 326.77h0M625.10 331.20h0M625.10 329.86h0M625.10 328.31h0M625.10 326.77h0M627.89 315.81h0M627.89 317.20h0M627.89 320.75h0M627.89 331.20h0M627.89 328.83h0M627.89 326.25h0M627.89 323.68h0M627.89 331.20h0M627.89 329.73h0M627.89 328.07h0M627.89 326.40h0M669.43 315.03h0M669.43 320.44h0M669.43 331.20h0M669.43 328.83h0M669.43 326.25h0M669.43 323.68h0M669.43 331.20h0M669.43 329.73h0M669.43 328.07h0M669.43 326.40h0" fill="none" stroke="#0000ff" stroke-width="2.5" stroke-linecap="round"/></g>
<polyline clip-path="url(#cpf)" fill="none" stroke="#d23a44" stroke-width="1.1" points="491.92,334.30 493.40,334.06 494.88,333.83 496.37,333.60 497.85,333.37 499.33,333.15 500.81,332.92 502.29,332.71 503.77,332.49 505.25,332.27 506.73,332.06 508.21,331.85 509.69,331.65 511.17,331.45 512.65,331.24 514.14,331.05 515.62,330.85 517.10,330.66 518.58,330.47 520.06,330.28 521.54,330.10 523.02,329.92 524.50,329.74 525.98,329.56 527.46,329.39 528.94,329.21 530.43,329.05 531.91,328.88 533.39,328.72 534.87,328.56 536.35,328.40 537.83,328.25 539.31,328.09 540.79,327.94 542.27,327.80 543.75,327.65 545.23,327.51 546.71,327.37 548.20,327.24 549.68,327.10 551.16,326.97 552.64,326.84 554.12,326.72 555.60,326.60 557.08,326.48 558.56,326.36 560.04,326.24 561.52,326.13 563.00,326.02 564.49,325.92 565.97,325.81 567.45,325.71 568.93,325.61 570.41,325.52 571.89,325.43 573.37,325.34 574.85,325.25 576.33,325.16 577.81,325.08 579.29,325.00 580.77,324.92 582.26,324.85 583.74,324.78 585.22,324.71 586.70,324.64 588.18,324.58 589.66,324.52 591.14,324.46 592.62,324.41 594.10,324.35 595.58,324.30 597.06,324.26 598.55,324.21 600.03,324.17 601.51,324.13 602.99,324.09 604.47,324.06 605.95,324.03 607.43,324.00 608.91,323.98 610.39,323.95 611.87,323.93 613.35,323.91 614.83,323.90 616.32,323.89 617.80,323.88 619.28,323.87 620.76,323.87 622.24,323.87 623.72,323.87 625.20,323.87 626.68,323.88 628.16,323.89 629.64,323.90 631.12,323.91 632.61,323.93 634.09,323.95 635.57,323.97 637.05,324.00 638.53,324.03 640.01,324.06 641.49,324.09 642.97,324.13 644.45,324.17 645.93,324.21 647.41,324.25 648.89,324.30 650.38,324.35 651.86,324.40 653.34,324.46 654.82,324.51 656.30,324.57 657.78,324.64 659.26,324.70 660.74,324.77 662.22,324.84 663.70,324.92 665.18,324.99 666.67,325.07 668.15,325.15 669.63,325.24"/>
<rect x="489.6" y="177.0" width="185.80" height="154.40" fill="none" stroke="#3a3a3a" stroke-width="1.1"/>
<path d="M489.60 300.52h3.4M489.60 269.64h3.4M489.60 238.76h3.4M489.60 207.88h3.4M516.14 331.40v-3.6M542.69 331.40v-3.6M569.23 331.40v-3.6M595.77 331.40v-3.6M622.31 331.40v-3.6M648.86 331.40v-3.6" stroke="#3a3a3a" stroke-width="1" fill="none"/>
<text x="486.00" y="336.71" text-anchor="end" font-size="15.7">0</text>
<text x="486.00" y="305.83" text-anchor="end" font-size="15.7">20</text>
<text x="486.00" y="274.95" text-anchor="end" font-size="15.7">40</text>
<text x="486.00" y="244.07" text-anchor="end" font-size="15.7">60</text>
<text x="486.00" y="213.19" text-anchor="end" font-size="15.7">80</text>
<text x="486.00" y="182.31" text-anchor="end" font-size="15.7">100</text>
<text id="tf" x="491.3" y="190.90" font-size="12.3"><tspan>(f)  NO</tspan><tspan dy="3.20" font-size="7.6">3</tspan><tspan dy="-8.36" font-size="8.9">-</tspan><tspan dy="5.17"> underground N leakage</tspan></text>
<text id="ef" x="499.1" y="213.10" font-size="12.5"><tspan>y=-2.12+0.07x-1.75e</tspan><tspan dy="-4.25" font-size="7.5">-4</tspan><tspan dy="4.25">x</tspan><tspan dy="-4.25" font-size="7.5">2</tspan></text>
<text x="499.1" y="231.20" font-size="12.5"><tspan>r</tspan><tspan dy="-4.25" font-size="7.5">2</tspan><tspan dy="4.25">=0.13</tspan></text>
<text x="499.1" y="248.40" font-size="12.5">n=480</text>
<text x="499.1" y="264.3" font-size="12.5">p</text>
<path d="M517.60 256.55L507.85 260.43L517.60 264.30" fill="none" stroke="#111" stroke-width="0.9"/>
<text x="518.80" y="264.3" font-size="12.5">0.001</text>
<clipPath id="cpg"><rect x="62.3" y="341.3" width="185.7" height="154.3"/></clipPath>
<g fill="#0000ff" clip-path="url(#cpg)"><path d="M64.62 495.40h0M71.19 495.40h0M73.11 495.40h0M79.68 495.40h0M84.32 495.40h0M87.17 495.40h0M91.48 495.40h0M98.11 495.40h0M103.42 495.40h0M105.41 495.40h0M130.01 426.82h0M130.01 444.30h0M130.01 454.32h0M130.01 455.48h0M130.01 459.22h0M130.01 462.81h0M130.01 464.43h0M130.01 466.01h0M130.01 495.40h0M130.01 493.09h0M130.01 490.59h0M130.01 488.08h0M130.01 485.57h0M130.01 483.06h0M130.01 480.56h0M130.01 495.40h0M130.01 493.93h0M130.01 492.27h0M130.01 490.60h0M136.58 433.11h0M136.58 451.89h0M136.58 465.70h0M136.58 476.12h0M136.58 492.28h0M136.58 489.49h0M136.58 486.69h0M136.58 483.89h0M136.58 481.10h0M136.58 492.28h0M136.58 490.62h0M136.58 488.95h0M136.58 487.28h0M164.83 434.27h0M164.83 435.81h0M164.83 437.51h0M164.83 448.62h0M164.83 458.49h0M164.83 473.42h0M164.83 495.40h0M164.83 493.03h0M164.83 490.46h0M164.83 487.88h0M164.83 485.31h0M164.83 482.74h0M164.83 480.17h0M164.83 495.40h0M164.83 493.93h0M164.83 492.27h0M164.83 490.60h0M183.20 409.42h0M183.20 431.33h0M183.20 450.85h0M183.20 453.17h0M183.20 455.21h0M183.20 468.21h0M183.20 470.53h0M183.20 472.46h0M183.20 495.40h0M183.20 492.61h0M183.20 489.62h0M183.20 486.63h0M183.20 483.64h0M183.20 495.40h0M183.20 493.93h0M183.20 492.27h0M183.20 490.60h0M192.09 406.49h0M192.09 441.60h0M192.09 454.09h0M192.09 464.08h0M192.09 468.60h0M192.09 470.91h0M192.09 472.84h0M192.09 495.40h0M192.09 493.03h0M192.09 490.46h0M192.09 487.88h0M192.09 485.31h0M192.09 482.74h0M192.09 480.17h0M192.09 495.40h0M192.09 493.93h0M192.09 492.27h0M192.09 490.60h0M197.60 495.40h0M197.60 492.71h0M197.60 489.81h0M197.60 486.92h0M197.60 484.03h0M197.60 481.13h0M197.60 478.24h0M197.60 495.40h0M197.60 493.93h0M197.60 492.27h0M197.60 490.60h0M200.51 371.16h0M200.51 409.42h0M200.51 443.72h0M200.51 450.85h0M200.51 453.17h0M200.51 454.09h0M200.51 461.42h0M200.51 495.40h0M200.51 492.85h0M200.51 490.10h0M200.51 487.35h0M200.51 484.61h0M200.51 481.86h0M200.51 479.11h0M200.51 476.36h0M200.51 473.61h0M200.51 495.40h0M200.51 493.93h0M200.51 492.27h0M200.51 490.60h0M242.03 456.29h0M242.03 495.40h0M242.03 492.87h0M242.03 490.14h0M242.03 487.41h0M242.03 484.68h0M242.03 481.95h0M242.03 479.22h0M242.03 476.49h0M242.03 473.76h0M242.03 471.03h0M242.03 468.30h0M242.03 465.57h0M242.03 462.84h0M242.03 460.11h0M242.03 495.40h0M242.03 493.93h0M242.03 492.27h0M242.03 490.60h0" fill="none" stroke="#0000ff" stroke-width="2.5" stroke-linecap="round"/></g>
<polyline clip-path="url(#cpg)" fill="none" stroke="#c97a7a" stroke-width="0.75" points="64.62,500.89 66.10,500.46 67.58,500.04 69.06,499.61 70.54,499.20 72.02,498.78 73.50,498.38 74.98,497.97 76.46,497.57 77.94,497.18 79.42,496.79 80.90,496.40 82.38,496.02 83.86,495.65 85.34,495.28 86.82,494.91 88.30,494.55 89.78,494.19 91.26,493.83 92.74,493.49 94.22,493.14 95.70,492.80 97.18,492.47 98.66,492.14 100.14,491.81 101.62,491.49 103.10,491.17 104.58,490.86 106.06,490.55 107.54,490.25 109.02,489.95 110.50,489.66 111.98,489.37 113.46,489.08 114.94,488.80 116.42,488.53 117.90,488.26 119.38,487.99 120.86,487.73 122.34,487.47 123.82,487.22 125.30,486.97 126.78,486.73 128.26,486.49 129.74,486.25 131.22,486.02 132.70,485.80 134.18,485.58 135.66,485.36 137.14,485.15 138.62,484.94 140.10,484.74 141.59,484.54 143.07,484.35 144.55,484.16 146.03,483.98 147.51,483.80 148.99,483.62 150.47,483.45 151.95,483.29 153.43,483.12 154.91,482.97 156.39,482.82 157.87,482.67 159.35,482.52 160.83,482.39 162.31,482.25 163.79,482.12 165.27,482.00 166.75,481.88 168.23,481.76 169.71,481.65 171.19,481.55 172.67,481.44 174.15,481.35 175.63,481.25 177.11,481.17 178.59,481.08 180.07,481.00 181.55,480.93 183.03,480.86 184.51,480.79 185.99,480.73 187.47,480.68 188.95,480.63 190.43,480.58 191.91,480.54 193.39,480.50 194.87,480.46 196.35,480.44 197.83,480.41 199.31,480.39 200.79,480.38 202.27,480.37 203.75,480.36 205.23,480.36 206.71,480.36 208.19,480.37 209.67,480.38 211.15,480.40 212.63,480.42 214.11,480.45 215.59,480.48 217.07,480.51 218.55,480.55 220.03,480.60 221.51,480.65 222.99,480.70 224.47,480.76 225.95,480.82 227.43,480.89 228.91,480.96 230.39,481.04 231.87,481.12 233.35,481.21 234.83,481.30 236.31,481.39 237.79,481.49 239.27,481.59 240.75,481.70 242.23,481.81"/>
<rect x="62.3" y="341.3" width="185.70" height="154.30" fill="none" stroke="#3a3a3a" stroke-width="1.1"/>
<path d="M62.30 457.03h3.4M62.30 418.45h3.4M62.30 379.88h3.4M88.83 495.60v-3.6M115.36 495.60v-3.6M141.89 495.60v-3.6M168.41 495.60v-3.6M194.94 495.60v-3.6M221.47 495.60v-3.6" stroke="#3a3a3a" stroke-width="1" fill="none"/>
<text x="58.70" y="500.91" text-anchor="end" font-size="15.7">0</text>
<text x="58.70" y="462.33" text-anchor="end" font-size="15.7">100</text>
<text x="58.70" y="423.76" text-anchor="end" font-size="15.7">200</text>
<text x="58.70" y="385.18" text-anchor="end" font-size="15.7">300</text>
<text x="58.70" y="346.61" text-anchor="end" font-size="15.7">400</text>
<text id="tg" x="63.3" y="353.10" font-size="12.4"><tspan>(g)DON underground N leakage</tspan></text>
<text id="eg" x="69.7" y="368.40" font-size="12.5"><tspan>y=-13.9+0.49x-0.001x</tspan><tspan dy="-4.25" font-size="7.5">2</tspan></text>
<text x="69.7" y="386.50" font-size="12.5"><tspan>r</tspan><tspan dy="-4.25" font-size="7.5">2</tspan><tspan dy="4.25">=0.21</tspan></text>
<text x="69.7" y="403.10" font-size="12.5">n=480</text>
<text x="69.7" y="418.7" font-size="12.5">p</text>
<path d="M88.20 410.95L78.45 414.82L88.20 418.70" fill="none" stroke="#111" stroke-width="0.9"/>
<text x="89.40" y="418.7" font-size="12.5">0.001</text>
<clipPath id="cph"><rect x="277.3" y="343.3" width="185.0" height="154.2"/></clipPath>
<g fill="#0000ff" clip-path="url(#cph)"><path d="M278.62 497.30h0M282.59 497.30h0M285.89 497.30h0M287.87 497.30h0M294.48 497.30h0M299.10 497.30h0M301.75 497.30h0M305.71 497.30h0M312.32 497.30h0M317.60 497.30h0M319.59 497.30h0M345.02 394.30h0M345.02 421.52h0M345.02 434.28h0M345.02 436.21h0M345.02 444.80h0M345.02 447.38h0M345.02 449.70h0M345.02 452.40h0M345.02 454.90h0M345.02 497.30h0M345.02 494.90h0M345.02 492.30h0M345.02 489.69h0M345.02 487.09h0M345.02 484.49h0M345.02 481.89h0M345.02 479.29h0M345.02 476.68h0M345.02 497.30h0M345.02 495.83h0M345.02 494.17h0M345.02 492.50h0M351.43 403.82h0M351.43 422.40h0M351.43 447.62h0M351.43 465.31h0M351.43 497.30h0M351.43 494.64h0M351.43 491.77h0M351.43 488.91h0M351.43 486.05h0M351.43 483.18h0M351.43 480.32h0M351.43 477.45h0M351.43 497.30h0M351.43 495.83h0M351.43 494.17h0M351.43 492.50h0M379.51 422.60h0M379.51 424.68h0M379.51 428.88h0M379.51 431.19h0M379.51 433.12h0M379.51 443.61h0M379.51 448.93h0M379.51 464.73h0M379.51 497.30h0M379.51 494.72h0M379.51 491.93h0M379.51 489.15h0M379.51 486.36h0M379.51 483.58h0M379.51 480.80h0M379.51 478.01h0M379.51 475.23h0M379.51 472.44h0M379.51 497.30h0M379.51 495.83h0M379.51 494.17h0M379.51 492.50h0M398.01 403.05h0M398.01 421.17h0M398.01 423.60h0M398.01 430.04h0M398.01 444.69h0M398.01 446.81h0M398.01 464.73h0M398.01 497.30h0M398.01 494.71h0M398.01 491.91h0M398.01 489.12h0M398.01 486.32h0M398.01 483.53h0M398.01 480.73h0M398.01 477.94h0M398.01 475.14h0M398.01 497.30h0M398.01 495.83h0M398.01 494.17h0M398.01 492.50h0M407.20 375.68h0M407.20 415.20h0M407.20 418.47h0M407.20 430.62h0M407.20 453.17h0M407.20 463.19h0M407.20 464.73h0M407.20 497.30h0M407.20 494.80h0M407.20 492.10h0M407.20 489.40h0M407.20 486.71h0M407.20 484.01h0M407.20 481.31h0M407.20 478.61h0M407.20 475.91h0M407.20 473.21h0M407.20 470.51h0M407.20 497.30h0M407.20 495.83h0M407.20 494.17h0M407.20 492.50h0M412.75 497.30h0M412.75 494.80h0M412.75 492.10h0M412.75 489.40h0M412.75 486.71h0M412.75 484.01h0M412.75 481.31h0M412.75 478.61h0M412.75 475.91h0M412.75 473.21h0M412.75 470.51h0M412.75 497.30h0M412.75 495.83h0M412.75 494.17h0M412.75 492.50h0M415.19 364.31h0M415.19 394.57h0M415.19 440.06h0M415.19 450.58h0M415.19 462.81h0M415.19 466.66h0M415.19 497.30h0M415.19 494.87h0M415.19 492.24h0M415.19 489.61h0M415.19 486.99h0M415.19 484.36h0M415.19 481.73h0M415.19 479.10h0M415.19 476.47h0M415.19 473.84h0M415.19 471.22h0M415.19 468.59h0M415.19 497.30h0M415.19 495.83h0M415.19 494.17h0M415.19 492.50h0M456.88 447.77h0M456.88 459.72h0M456.88 462.03h0M456.88 497.30h0M456.88 494.74h0M456.88 491.97h0M456.88 489.21h0M456.88 486.45h0M456.88 483.69h0M456.88 480.92h0M456.88 478.16h0M456.88 475.40h0M456.88 472.64h0M456.88 469.87h0M456.88 467.11h0M456.88 464.35h0M456.88 497.30h0M456.88 495.83h0M456.88 494.17h0M456.88 492.50h0" fill="none" stroke="#0000ff" stroke-width="2.5" stroke-linecap="round"/></g>
<polyline clip-path="url(#cph)" fill="none" stroke="#c97a7a" stroke-width="0.75" points="279.61,506.61 281.09,505.91 282.56,505.22 284.04,504.54 285.51,503.86 286.98,503.20 288.46,502.54 289.93,501.89 291.41,501.25 292.88,500.61 294.36,499.99 295.83,499.37 297.31,498.76 298.78,498.16 300.26,497.56 301.73,496.98 303.20,496.40 304.68,495.83 306.15,495.27 307.63,494.71 309.10,494.17 310.58,493.63 312.05,493.10 313.53,492.58 315.00,492.06 316.47,491.56 317.95,491.06 319.42,490.57 320.90,490.09 322.37,489.61 323.85,489.14 325.32,488.69 326.80,488.24 328.27,487.79 329.75,487.36 331.22,486.93 332.69,486.51 334.17,486.10 335.64,485.70 337.12,485.30 338.59,484.92 340.07,484.54 341.54,484.17 343.02,483.80 344.49,483.45 345.96,483.10 347.44,482.76 348.91,482.43 350.39,482.11 351.86,481.79 353.34,481.49 354.81,481.19 356.29,480.90 357.76,480.61 359.24,480.34 360.71,480.07 362.18,479.81 363.66,479.56 365.13,479.32 366.61,479.08 368.08,478.85 369.56,478.63 371.03,478.42 372.51,478.22 373.98,478.02 375.45,477.84 376.93,477.66 378.40,477.48 379.88,477.32 381.35,477.17 382.83,477.02 384.30,476.88 385.78,476.75 387.25,476.62 388.73,476.51 390.20,476.40 391.67,476.30 393.15,476.21 394.62,476.12 396.10,476.05 397.57,475.98 399.05,475.92 400.52,475.87 402.00,475.82 403.47,475.78 404.94,475.76 406.42,475.74 407.89,475.72 409.37,475.72 410.84,475.72 412.32,475.73 413.79,475.75 415.27,475.78 416.74,475.82 418.21,475.86 419.69,475.91 421.16,475.97 422.64,476.04 424.11,476.11 425.59,476.20 427.06,476.29 428.54,476.39 430.01,476.49 431.49,476.61 432.96,476.73 434.43,476.86 435.91,477.00 437.38,477.15 438.86,477.30 440.33,477.47 441.81,477.64 443.28,477.82 444.76,478.00 446.23,478.20 447.70,478.40 449.18,478.61 450.65,478.83 452.13,479.06 453.60,479.29 455.08,479.54 456.55,479.79"/>
<rect x="277.3" y="343.3" width="185.00" height="154.20" fill="none" stroke="#3a3a3a" stroke-width="1.1"/>
<path d="M277.30 478.23h2.2M277.30 458.95h3.4M277.30 439.68h2.2M277.30 420.40h3.4M277.30 401.12h2.2M277.30 381.85h3.4M277.30 362.58h2.2M290.51 497.50v-2.0M303.73 497.50v-3.6M316.94 497.50v-2.0M330.16 497.50v-3.6M343.37 497.50v-2.0M356.59 497.50v-3.6M369.80 497.50v-2.0M383.01 497.50v-3.6M396.23 497.50v-2.0M409.44 497.50v-3.6M422.66 497.50v-2.0M435.87 497.50v-3.6M449.09 497.50v-2.0" stroke="#3a3a3a" stroke-width="1" fill="none"/>
<text x="273.70" y="502.81" text-anchor="end" font-size="15.7">0</text>
<text x="273.70" y="464.26" text-anchor="end" font-size="15.7">100</text>
<text x="273.70" y="425.71" text-anchor="end" font-size="15.7">200</text>
<text x="273.70" y="387.16" text-anchor="end" font-size="15.7">300</text>
<text x="273.70" y="348.61" text-anchor="end" font-size="15.7">400</text>
<text id="th" x="280.1" y="356.50" font-size="12.25"><tspan>(h)  TDN underground N leakage</tspan></text>
<text id="eh" x="284.5" y="373.20" font-size="12.5"><tspan>y=-23+0.82x-0.002x</tspan><tspan dy="-4.25" font-size="7.5">2</tspan></text>
<text x="284.5" y="392.60" font-size="12.5"><tspan>r</tspan><tspan dy="-4.25" font-size="7.5">2</tspan><tspan dy="4.25">=0.26</tspan></text>
<text x="284.5" y="409.30" font-size="12.5">n=480</text>
<text x="284.5" y="424.9" font-size="12.5">p</text>
<path d="M303.00 417.15L293.25 421.02L303.00 424.90" fill="none" stroke="#111" stroke-width="0.9"/>
<text x="304.20" y="424.9" font-size="12.5">0.001</text>
<clipPath id="cpi"><rect x="490.0" y="344.5" width="185.5" height="153.8"/></clipPath>
<g fill="#0000ff" clip-path="url(#cpi)"><path d="M492.12 497.53h0M498.81 498.10h0M498.81 495.99h0M498.81 493.69h0M498.81 498.10h0M498.81 496.76h0M498.81 495.22h0M498.81 493.69h0M500.80 490.76h0M500.80 498.10h0M500.80 495.99h0M500.80 493.69h0M500.80 498.10h0M500.80 496.76h0M500.80 495.22h0M500.80 493.69h0M507.09 498.10h0M507.09 496.76h0M507.09 498.10h0M507.09 496.76h0M512.00 498.10h0M512.00 495.74h0M512.00 493.17h0M512.00 490.61h0M512.00 498.10h0M512.00 496.63h0M512.00 494.97h0M512.00 493.30h0M514.98 498.10h0M514.98 494.45h0M514.98 498.10h0M514.98 497.02h0M514.98 495.74h0M514.98 494.45h0M518.42 486.07h0M518.42 498.10h0M518.42 495.61h0M518.42 492.92h0M518.42 498.10h0M518.42 496.63h0M518.42 494.97h0M518.42 493.30h0M525.31 498.10h0M525.31 495.99h0M525.31 493.69h0M525.31 498.10h0M525.31 496.76h0M525.31 495.22h0M525.31 493.69h0M530.41 469.31h0M530.41 471.38h0M530.41 473.23h0M530.41 481.00h0M530.41 485.23h0M530.41 498.10h0M530.41 495.48h0M530.41 492.66h0M530.41 489.84h0M530.41 498.10h0M530.41 496.63h0M530.41 494.97h0M530.41 493.30h0M532.73 498.10h0M532.73 495.99h0M532.73 493.69h0M532.73 491.38h0M532.73 498.10h0M532.73 496.63h0M532.73 494.97h0M532.73 493.30h0M557.91 400.33h0M557.91 427.24h0M557.91 440.55h0M557.91 450.62h0M557.91 453.70h0M557.91 456.77h0M557.91 460.08h0M557.91 498.10h0M557.91 495.74h0M557.91 493.17h0M557.91 490.61h0M557.91 488.05h0M557.91 485.48h0M557.91 482.92h0M557.91 480.36h0M557.91 477.79h0M557.91 475.23h0M557.91 498.10h0M557.91 496.63h0M557.91 494.97h0M557.91 493.30h0M564.13 409.56h0M564.13 427.71h0M564.13 452.93h0M564.13 470.92h0M564.13 498.10h0M564.13 495.74h0M564.13 493.17h0M564.13 490.61h0M564.13 488.05h0M564.13 485.48h0M564.13 482.92h0M564.13 480.36h0M564.13 477.79h0M564.13 475.23h0M564.13 498.10h0M564.13 496.63h0M564.13 494.97h0M564.13 493.30h0M592.62 450.31h0M592.62 453.70h0M592.62 456.24h0M592.62 463.08h0M592.62 466.00h0M592.62 469.08h0M592.62 472.15h0M592.62 476.00h0M592.62 498.10h0M592.62 495.66h0M592.62 493.03h0M592.62 490.39h0M592.62 487.75h0M592.62 485.12h0M592.62 482.48h0M592.62 479.84h0M592.62 498.10h0M592.62 496.63h0M592.62 494.97h0M592.62 493.30h0M610.91 417.94h0M610.91 426.78h0M610.91 442.55h0M610.91 459.23h0M610.91 462.16h0M610.91 464.08h0M610.91 498.10h0M610.91 495.50h0M610.91 492.71h0M610.91 489.91h0M610.91 487.11h0M610.91 484.32h0M610.91 481.52h0M610.91 478.73h0M610.91 475.93h0M610.91 473.13h0M610.91 470.34h0M610.91 467.54h0M610.91 498.10h0M610.91 496.63h0M610.91 494.97h0M610.91 493.30h0M619.85 418.94h0M619.85 429.71h0M619.85 437.63h0M619.85 445.39h0M619.85 453.31h0M619.85 455.24h0M619.85 464.08h0M619.85 466.00h0M619.85 467.00h0M619.85 473.92h0M619.85 476.00h0M619.85 477.77h0M619.85 498.10h0M619.85 495.48h0M619.85 492.66h0M619.85 489.84h0M619.85 487.02h0M619.85 484.20h0M619.85 481.38h0M619.85 498.10h0M619.85 496.63h0M619.85 494.97h0M619.85 493.30h0M624.82 477.77h0M624.82 498.10h0M624.82 495.74h0M624.82 493.17h0M624.82 490.61h0M624.82 488.05h0M624.82 485.48h0M624.82 482.92h0M624.82 498.10h0M624.82 496.63h0M624.82 494.97h0M624.82 493.30h0M628.20 445.01h0M628.20 459.47h0M628.20 467.00h0M628.20 476.77h0M628.20 498.10h0M628.20 495.74h0M628.20 493.17h0M628.20 490.61h0M628.20 488.05h0M628.20 485.48h0M628.20 482.92h0M628.20 480.36h0M628.20 477.79h0M628.20 475.23h0M628.20 498.10h0M628.20 496.63h0M628.20 494.97h0M628.20 493.30h0M670.00 475.77h0M670.00 478.77h0M670.00 498.10h0M670.00 495.84h0M670.00 493.38h0M670.00 490.92h0M670.00 488.46h0M670.00 486.00h0M670.00 498.10h0M670.00 496.63h0M670.00 494.97h0M670.00 493.30h0" fill="none" stroke="#0000ff" stroke-width="2.5" stroke-linecap="round"/></g>
<polyline clip-path="url(#cpi)" fill="none" stroke="#d23a44" stroke-width="1.1" points="492.32,504.05 493.80,503.42 495.28,502.79 496.75,502.18 498.23,501.57 499.71,500.97 501.19,500.38 502.67,499.80 504.15,499.23 505.63,498.67 507.10,498.11 508.58,497.57 510.06,497.03 511.54,496.51 513.02,495.99 514.50,495.49 515.97,494.99 517.45,494.50 518.93,494.02 520.41,493.55 521.89,493.08 523.37,492.63 524.85,492.19 526.32,491.75 527.80,491.33 529.28,490.91 530.76,490.51 532.24,490.11 533.72,489.72 535.19,489.34 536.67,488.97 538.15,488.61 539.63,488.25 541.11,487.91 542.59,487.58 544.07,487.25 545.54,486.94 547.02,486.63 548.50,486.33 549.98,486.04 551.46,485.76 552.94,485.49 554.41,485.23 555.89,484.98 557.37,484.74 558.85,484.50 560.33,484.28 561.81,484.06 563.29,483.85 564.76,483.66 566.24,483.47 567.72,483.29 569.20,483.12 570.68,482.96 572.16,482.81 573.64,482.66 575.11,482.53 576.59,482.41 578.07,482.29 579.55,482.18 581.03,482.09 582.51,482.00 583.98,481.92 585.46,481.85 586.94,481.79 588.42,481.74 589.90,481.69 591.38,481.66 592.86,481.64 594.33,481.62 595.81,481.62 597.29,481.62 598.77,481.63 600.25,481.65 601.73,481.68 603.20,481.72 604.68,481.77 606.16,481.83 607.64,481.90 609.12,481.97 610.60,482.06 612.08,482.15 613.55,482.25 615.03,482.37 616.51,482.49 617.99,482.62 619.47,482.76 620.95,482.91 622.42,483.07 623.90,483.23 625.38,483.41 626.86,483.59 628.34,483.79 629.82,483.99 631.30,484.21 632.77,484.43 634.25,484.66 635.73,484.90 637.21,485.15 638.69,485.41 640.17,485.67 641.65,485.95 643.12,486.23 644.60,486.53 646.08,486.83 647.56,487.15 649.04,487.47 650.52,487.80 651.99,488.14 653.47,488.49 654.95,488.85 656.43,489.22 657.91,489.59 659.39,489.98 660.87,490.37 662.34,490.78 663.82,491.19 665.30,491.61 666.78,492.04 668.26,492.49 669.74,492.93"/>
<rect x="490.0" y="344.5" width="185.50" height="153.80" fill="none" stroke="#3a3a3a" stroke-width="1.1"/>
<path d="M490.00 459.85h3.4M490.00 421.40h3.4M490.00 382.95h3.4M516.50 498.30v-3.6M543.00 498.30v-3.6M569.50 498.30v-3.6M596.00 498.30v-3.6M622.50 498.30v-3.6M649.00 498.30v-3.6" stroke="#3a3a3a" stroke-width="1" fill="none"/>
<text x="486.40" y="503.61" text-anchor="end" font-size="15.7">0</text>
<text x="486.40" y="465.16" text-anchor="end" font-size="15.7">50</text>
<text x="486.40" y="426.71" text-anchor="end" font-size="15.7">100</text>
<text x="486.40" y="388.26" text-anchor="end" font-size="15.7">150</text>
<text x="486.40" y="349.81" text-anchor="end" font-size="15.7">200</text>
<text id="ti" x="494.1" y="356.90" font-size="12.1"><tspan>(i)</tspan><tspan> Total NH</tspan><tspan dy="3.15" font-size="7.5">4</tspan><tspan dy="-8.23" font-size="8.7">+</tspan><tspan dy="5.08"> loss</tspan></text>
<text id="ei" x="506.9" y="378.40" font-size="12.4"><tspan>y=-9.15+0.39x-0.001x</tspan><tspan dy="-4.22" font-size="7.5">2</tspan></text>
<text x="506.9" y="397.00" font-size="12.4"><tspan>r</tspan><tspan dy="-4.22" font-size="7.5">2</tspan><tspan dy="4.22">=0.22</tspan></text>
<text x="506.9" y="413.00" font-size="12.4">n=480</text>
<text x="506.9" y="428.9" font-size="12.4">p</text>
<path d="M525.27 421.21L515.59 425.06L525.27 428.90" fill="none" stroke="#111" stroke-width="0.9"/>
<text x="526.47" y="428.9" font-size="12.4">0.001</text>
<clipPath id="cpj"><rect x="62.6" y="509.5" width="185.9" height="154.10000000000002"/></clipPath>
<g fill="#0000ff" clip-path="url(#cpj)"><path d="M65.12 663.21h0M72.03 663.40h0M72.03 662.06h0M72.03 663.40h0M72.03 662.06h0M73.89 663.40h0M73.89 662.06h0M73.89 663.40h0M73.89 662.06h0M80.39 651.89h0M80.39 663.40h0M80.39 661.29h0M80.39 663.40h0M80.39 662.44h0M80.39 661.29h0M84.78 640.33h0M84.78 663.40h0M84.78 661.29h0M84.78 663.40h0M84.78 662.44h0M84.78 661.29h0M87.76 659.05h0M87.76 663.40h0M87.76 662.83h0M87.76 663.40h0M87.76 662.83h0M91.48 650.89h0M91.48 652.43h0M91.48 653.74h0M91.48 655.59h0M91.48 657.44h0M91.48 663.40h0M91.48 659.75h0M91.48 663.40h0M91.48 662.32h0M91.48 661.03h0M91.48 659.75h0M98.12 640.72h0M98.12 641.72h0M98.12 653.12h0M98.12 655.89h0M98.12 657.44h0M98.12 663.40h0M98.12 661.29h0M98.12 658.98h0M98.12 663.40h0M98.12 662.06h0M98.12 660.52h0M98.12 658.98h0M103.50 663.40h0M103.50 660.52h0M103.50 663.40h0M103.50 662.06h0M103.50 660.52h0M105.36 631.78h0M105.36 646.11h0M105.36 651.19h0M105.36 655.89h0M105.36 657.44h0M105.36 663.40h0M105.36 661.29h0M105.36 658.98h0M105.36 663.40h0M105.36 662.06h0M105.36 660.52h0M105.36 658.98h0M130.32 663.40h0M130.32 660.77h0M130.32 657.95h0M130.32 655.12h0M130.32 663.40h0M130.32 661.93h0M130.32 660.27h0M130.32 658.60h0M137.23 631.39h0M137.23 638.71h0M137.23 644.57h0M137.23 649.58h0M137.23 663.40h0M137.23 660.52h0M137.23 657.44h0M137.23 654.35h0M137.23 663.40h0M137.23 661.93h0M137.23 660.27h0M137.23 658.60h0M165.51 644.18h0M165.51 663.40h0M165.51 660.90h0M165.51 658.21h0M165.51 655.51h0M165.51 652.81h0M165.51 650.12h0M165.51 647.42h0M165.51 663.40h0M165.51 661.93h0M165.51 660.27h0M165.51 658.60h0M183.70 630.78h0M183.70 634.71h0M183.70 636.25h0M183.70 637.71h0M183.70 663.40h0M183.70 660.83h0M183.70 658.05h0M183.70 655.28h0M183.70 652.50h0M183.70 649.73h0M183.70 663.40h0M183.70 661.93h0M183.70 660.27h0M183.70 658.60h0M192.80 528.99h0M192.80 588.32h0M192.80 609.97h0M192.80 611.98h0M192.80 613.98h0M192.80 629.78h0M192.80 639.71h0M192.80 641.64h0M192.80 643.57h0M192.80 650.58h0M192.80 663.40h0M192.80 661.03h0M192.80 658.46h0M192.80 655.89h0M192.80 663.40h0M192.80 661.93h0M192.80 660.27h0M192.80 658.60h0M198.37 663.40h0M198.37 659.75h0M198.37 663.40h0M198.37 662.32h0M198.37 661.03h0M198.37 659.75h0M201.10 649.19h0M201.10 650.73h0M201.10 663.40h0M201.10 661.03h0M201.10 658.46h0M201.10 655.89h0M201.10 663.40h0M201.10 661.93h0M201.10 660.27h0M201.10 658.60h0M242.72 648.50h0M242.72 653.43h0M242.72 663.40h0M242.72 661.29h0M242.72 658.98h0M242.72 656.67h0M242.72 663.40h0M242.72 661.93h0M242.72 660.27h0M242.72 658.60h0" fill="none" stroke="#0000ff" stroke-width="2.5" stroke-linecap="round"/></g>
<polyline clip-path="url(#cpj)" fill="none" stroke="#d23a44" stroke-width="1.1" points="64.92,665.18 66.41,664.94 67.89,664.71 69.37,664.48 70.85,664.26 72.33,664.03 73.81,663.81 75.30,663.60 76.78,663.38 78.26,663.17 79.74,662.97 81.22,662.76 82.70,662.56 84.19,662.36 85.67,662.17 87.15,661.98 88.63,661.79 90.11,661.60 91.59,661.42 93.08,661.24 94.56,661.06 96.04,660.89 97.52,660.72 99.00,660.55 100.48,660.38 101.97,660.22 103.45,660.06 104.93,659.91 106.41,659.75 107.89,659.60 109.37,659.46 110.86,659.31 112.34,659.17 113.82,659.03 115.30,658.90 116.78,658.77 118.26,658.64 119.75,658.51 121.23,658.39 122.71,658.27 124.19,658.16 125.67,658.04 127.15,657.93 128.64,657.82 130.12,657.72 131.60,657.62 133.08,657.52 134.56,657.42 136.04,657.33 137.53,657.24 139.01,657.16 140.49,657.07 141.97,656.99 143.45,656.92 144.93,656.84 146.42,656.77 147.90,656.70 149.38,656.64 150.86,656.57 152.34,656.52 153.82,656.46 155.31,656.41 156.79,656.36 158.27,656.31 159.75,656.27 161.23,656.22 162.71,656.19 164.20,656.15 165.68,656.12 167.16,656.09 168.64,656.06 170.12,656.04 171.60,656.02 173.09,656.01 174.57,655.99 176.05,655.98 177.53,655.97 179.01,655.97 180.49,655.97 181.98,655.97 183.46,655.97 184.94,655.98 186.42,655.99 187.90,656.00 189.38,656.02 190.87,656.04 192.35,656.06 193.83,656.09 195.31,656.12 196.79,656.15 198.27,656.18 199.76,656.22 201.24,656.26 202.72,656.31 204.20,656.35 205.68,656.40 207.16,656.45 208.65,656.51 210.13,656.57 211.61,656.63 213.09,656.70 214.57,656.76 216.05,656.83 217.54,656.91 219.02,656.99 220.50,657.07 221.98,657.15 223.46,657.23 224.94,657.32 226.43,657.42 227.91,657.51 229.39,657.61 230.87,657.71 232.35,657.81 233.83,657.92 235.32,658.03 236.80,658.15 238.28,658.26 239.76,658.38 241.24,658.50 242.72,658.63"/>
<rect x="62.6" y="509.5" width="185.90" height="154.10" fill="none" stroke="#3a3a3a" stroke-width="1.1"/>
<path d="M62.60 625.08h3.4M62.60 586.55h3.4M62.60 548.02h3.4M89.16 663.60v-3.6M115.71 663.60v-3.6M142.27 663.60v-3.6M168.83 663.60v-3.6M195.39 663.60v-3.6M221.94 663.60v-3.6" stroke="#3a3a3a" stroke-width="1" fill="none"/>
<text x="59.00" y="668.91" text-anchor="end" font-size="15.7">0</text>
<text x="59.00" y="630.38" text-anchor="end" font-size="15.7">50</text>
<text x="59.00" y="591.86" text-anchor="end" font-size="15.7">100</text>
<text x="59.00" y="553.33" text-anchor="end" font-size="15.7">150</text>
<text x="59.00" y="514.81" text-anchor="end" font-size="15.7">200</text>
<text id="tj" x="68.9" y="521.10" font-size="12.1"><tspan>(j)   Total NO</tspan><tspan dy="3.15" font-size="7.5">3</tspan><tspan dy="-8.23" font-size="8.7">-</tspan><tspan dy="5.08"> loss</tspan></text>
<text id="ej" x="73.9" y="544.20" font-size="12.45"><tspan>y=-2.53+0.14x-3.94e</tspan><tspan dy="-4.23" font-size="7.5">-4</tspan><tspan dy="4.23">x</tspan><tspan dy="-4.23" font-size="7.5">2</tspan></text>
<text x="73.9" y="562.80" font-size="12.45"><tspan>r</tspan><tspan dy="-4.23" font-size="7.5">2</tspan><tspan dy="4.23">=0.10</tspan></text>
<text x="73.9" y="578.90" font-size="12.45">n=480</text>
<text x="73.9" y="593.9" font-size="12.45">p</text>
<path d="M92.33 586.18L82.62 590.04L92.33 593.90" fill="none" stroke="#111" stroke-width="0.9"/>
<text x="93.53" y="593.9" font-size="12.45">0.001</text>
<clipPath id="cpk"><rect x="276.4" y="509.6" width="185.8" height="153.89999999999998"/></clipPath>
<g fill="#0000ff" clip-path="url(#cpk)"><path d="M279.12 663.28h0M285.09 663.30h0M285.09 661.30h0M285.09 659.10h0M285.09 663.30h0M285.09 662.03h0M285.09 660.57h0M285.09 659.10h0M287.42 663.30h0M287.42 661.30h0M287.42 659.10h0M287.42 663.30h0M287.42 662.03h0M287.42 660.57h0M287.42 659.10h0M294.18 663.30h0M294.18 660.75h0M294.18 658.00h0M294.18 663.30h0M294.18 661.83h0M294.18 660.17h0M294.18 658.50h0M298.50 653.17h0M298.50 663.30h0M298.50 660.86h0M298.50 658.22h0M298.50 655.59h0M298.50 663.30h0M298.50 661.83h0M298.50 660.17h0M298.50 658.50h0M301.48 645.25h0M301.48 663.30h0M301.48 660.75h0M301.48 658.00h0M301.48 663.30h0M301.48 661.83h0M301.48 660.17h0M301.48 658.50h0M305.27 647.67h0M305.27 663.30h0M305.27 660.86h0M305.27 658.22h0M305.27 655.59h0M305.27 663.30h0M305.27 661.83h0M305.27 660.17h0M305.27 658.50h0M311.77 653.17h0M311.77 663.30h0M311.77 660.53h0M311.77 657.56h0M311.77 663.30h0M311.77 661.83h0M311.77 660.17h0M311.77 658.50h0M317.08 629.20h0M317.08 630.96h0M317.08 632.50h0M317.08 641.73h0M317.08 646.35h0M317.08 651.41h0M317.08 663.30h0M317.08 660.57h0M317.08 657.64h0M317.08 654.71h0M317.08 663.30h0M317.08 661.83h0M317.08 660.17h0M317.08 658.50h0M319.40 643.27h0M319.40 653.17h0M319.40 663.30h0M319.40 661.08h0M319.40 658.66h0M319.40 656.24h0M319.40 663.30h0M319.40 661.83h0M319.40 660.17h0M319.40 658.50h0M344.22 584.35h0M344.22 604.80h0M344.22 616.01h0M344.22 617.99h0M344.22 621.95h0M344.22 623.93h0M344.22 625.90h0M344.22 627.88h0M344.22 629.86h0M344.22 663.30h0M344.22 660.86h0M344.22 658.22h0M344.22 655.59h0M344.22 652.95h0M344.22 650.31h0M344.22 647.67h0M344.22 645.03h0M344.22 642.39h0M344.22 663.30h0M344.22 661.83h0M344.22 660.17h0M344.22 658.50h0M350.79 591.83h0M350.79 612.93h0M350.79 628.76h0M350.79 641.29h0M350.79 663.30h0M350.79 660.83h0M350.79 658.16h0M350.79 655.49h0M350.79 652.82h0M350.79 650.15h0M350.79 647.48h0M350.79 644.81h0M350.79 663.30h0M350.79 661.83h0M350.79 660.17h0M350.79 658.50h0M379.39 596.22h0M379.39 598.20h0M379.39 600.18h0M379.39 610.95h0M379.39 621.95h0M379.39 638.66h0M379.39 663.30h0M379.39 660.72h0M379.39 657.95h0M379.39 655.17h0M379.39 652.40h0M379.39 649.62h0M379.39 646.85h0M379.39 644.07h0M379.39 641.29h0M379.39 663.30h0M379.39 661.83h0M379.39 660.17h0M379.39 658.50h0M397.57 570.94h0M397.57 594.90h0M397.57 612.05h0M397.57 614.03h0M397.57 616.01h0M397.57 634.70h0M397.57 663.30h0M397.57 660.93h0M397.57 658.37h0M397.57 655.81h0M397.57 653.24h0M397.57 650.67h0M397.57 648.11h0M397.57 663.30h0M397.57 661.83h0M397.57 660.17h0M397.57 658.50h0M406.59 565.88h0M406.59 602.16h0M406.59 616.45h0M406.59 627.66h0M406.59 629.20h0M406.59 630.52h0M406.59 637.56h0M406.59 642.39h0M406.59 663.30h0M406.59 660.93h0M406.59 658.37h0M406.59 655.81h0M406.59 653.24h0M406.59 650.67h0M406.59 648.11h0M406.59 663.30h0M406.59 661.83h0M406.59 660.17h0M406.59 658.50h0M411.77 639.54h0M411.77 663.30h0M411.77 660.83h0M411.77 658.16h0M411.77 655.49h0M411.77 652.82h0M411.77 650.15h0M411.77 647.48h0M411.77 644.81h0M411.77 663.30h0M411.77 661.83h0M411.77 660.17h0M411.77 658.50h0M414.75 530.49h0M414.75 569.62h0M414.75 608.10h0M414.75 614.69h0M414.75 616.67h0M414.75 618.65h0M414.75 627.44h0M414.75 636.68h0M414.75 663.30h0M414.75 660.76h0M414.75 658.03h0M414.75 655.29h0M414.75 652.56h0M414.75 649.82h0M414.75 647.08h0M414.75 644.35h0M414.75 641.61h0M414.75 638.88h0M414.75 663.30h0M414.75 661.83h0M414.75 660.17h0M414.75 658.50h0M456.49 621.73h0M456.49 627.66h0M456.49 629.42h0M456.49 631.40h0M456.49 635.58h0M456.49 663.30h0M456.49 660.69h0M456.49 657.88h0M456.49 655.07h0M456.49 652.26h0M456.49 649.45h0M456.49 646.64h0M456.49 643.83h0M456.49 641.03h0M456.49 638.22h0M456.49 663.30h0M456.49 661.83h0M456.49 660.17h0M456.49 658.50h0" fill="none" stroke="#0000ff" stroke-width="2.5" stroke-linecap="round"/></g>
<polyline clip-path="url(#cpk)" fill="none" stroke="#d23a44" stroke-width="1.1" points="278.72,666.09 280.20,665.62 281.68,665.15 283.17,664.69 284.65,664.23 286.13,663.78 287.61,663.34 289.09,662.90 290.57,662.46 292.05,662.03 293.53,661.61 295.01,661.19 296.49,660.78 297.97,660.38 299.45,659.98 300.94,659.58 302.42,659.19 303.90,658.81 305.38,658.43 306.86,658.06 308.34,657.69 309.82,657.33 311.30,656.97 312.78,656.62 314.26,656.27 315.74,655.93 317.23,655.60 318.71,655.27 320.19,654.95 321.67,654.63 323.15,654.32 324.63,654.01 326.11,653.71 327.59,653.42 329.07,653.13 330.55,652.84 332.03,652.56 333.51,652.29 335.00,652.02 336.48,651.76 337.96,651.50 339.44,651.25 340.92,651.01 342.40,650.77 343.88,650.53 345.36,650.30 346.84,650.08 348.32,649.86 349.80,649.65 351.29,649.44 352.77,649.24 354.25,649.05 355.73,648.86 357.21,648.67 358.69,648.49 360.17,648.32 361.65,648.15 363.13,647.99 364.61,647.83 366.09,647.68 367.57,647.54 369.06,647.40 370.54,647.26 372.02,647.13 373.50,647.01 374.98,646.89 376.46,646.78 377.94,646.67 379.42,646.57 380.90,646.47 382.38,646.38 383.86,646.30 385.35,646.22 386.83,646.15 388.31,646.08 389.79,646.01 391.27,645.96 392.75,645.91 394.23,645.86 395.71,645.82 397.19,645.78 398.67,645.75 400.15,645.73 401.63,645.71 403.12,645.70 404.60,645.69 406.08,645.69 407.56,645.69 409.04,645.70 410.52,645.72 412.00,645.74 413.48,645.77 414.96,645.80 416.44,645.83 417.92,645.88 419.41,645.92 420.89,645.98 422.37,646.04 423.85,646.10 425.33,646.17 426.81,646.25 428.29,646.33 429.77,646.42 431.25,646.51 432.73,646.61 434.21,646.71 435.69,646.82 437.18,646.93 438.66,647.05 440.14,647.18 441.62,647.31 443.10,647.45 444.58,647.59 446.06,647.74 447.54,647.89 449.02,648.05 450.50,648.22 451.98,648.39 453.47,648.56 454.95,648.74 456.43,648.93"/>
<rect x="276.4" y="509.6" width="185.80" height="153.90" fill="none" stroke="#3a3a3a" stroke-width="1.1"/>
<path d="M276.40 641.51h3.4M276.40 619.53h3.4M276.40 597.54h3.4M276.40 575.56h3.4M276.40 553.57h3.4M276.40 531.59h3.4M302.94 663.50v-3.6M329.49 663.50v-3.6M356.03 663.50v-3.6M382.57 663.50v-3.6M409.11 663.50v-3.6M435.66 663.50v-3.6" stroke="#3a3a3a" stroke-width="1" fill="none"/>
<text x="272.80" y="668.81" text-anchor="end" font-size="15.7">0</text>
<text x="272.80" y="646.82" text-anchor="end" font-size="15.7">100</text>
<text x="272.80" y="624.84" text-anchor="end" font-size="15.7">200</text>
<text x="272.80" y="602.85" text-anchor="end" font-size="15.7">300</text>
<text x="272.80" y="580.86" text-anchor="end" font-size="15.7">400</text>
<text x="272.80" y="558.88" text-anchor="end" font-size="15.7">500</text>
<text x="272.80" y="536.89" text-anchor="end" font-size="15.7">600</text>
<text x="272.80" y="514.91" text-anchor="end" font-size="15.7">700</text>
<text id="tk" x="285.7" y="523.00" font-size="12.5"><tspan>(k) Total DON loss</tspan></text>
<text id="ek" x="290.1" y="540.60" font-size="12.45"><tspan>y=-16.9+0.98x-0.002x</tspan><tspan dy="-4.23" font-size="7.5">2</tspan></text>
<text x="290.1" y="560.00" font-size="12.45"><tspan>r</tspan><tspan dy="-4.23" font-size="7.5">2</tspan><tspan dy="4.23">=0.18</tspan></text>
<text x="290.1" y="576.70" font-size="12.45">n=480</text>
<text x="290.1" y="591.7" font-size="12.45">p</text>
<path d="M308.53 583.98L298.82 587.84L308.53 591.70" fill="none" stroke="#111" stroke-width="0.9"/>
<text x="309.73" y="591.7" font-size="12.45">0.001</text>
<clipPath id="cpl"><rect x="489.4" y="511.3" width="185.5" height="154.40000000000003"/></clipPath>
<g fill="#0000ff" clip-path="url(#cpl)"><path d="M491.72 665.48h0M498.28 665.50h0M498.28 662.17h0M498.28 665.50h0M498.28 663.94h0M498.28 662.17h0M500.20 665.50h0M500.20 663.05h0M500.20 660.41h0M500.20 665.50h0M500.20 664.03h0M500.20 662.37h0M500.20 660.70h0M506.89 665.50h0M506.89 663.05h0M506.89 660.41h0M506.89 665.50h0M506.89 664.03h0M506.89 662.37h0M506.89 660.70h0M511.39 665.50h0M511.39 663.01h0M511.39 660.32h0M511.39 657.63h0M511.39 654.94h0M511.39 652.25h0M511.39 665.50h0M511.39 664.03h0M511.39 662.37h0M511.39 660.70h0M514.18 645.85h0M514.18 665.50h0M514.18 662.39h0M514.18 659.08h0M514.18 665.50h0M514.18 664.03h0M514.18 662.37h0M514.18 660.70h0M518.09 645.85h0M518.09 665.50h0M518.09 663.22h0M518.09 660.74h0M518.09 658.26h0M518.09 655.77h0M518.09 665.50h0M518.09 664.03h0M518.09 662.37h0M518.09 660.70h0M524.38 653.57h0M524.38 665.50h0M524.38 662.76h0M524.38 659.82h0M524.38 656.88h0M524.38 665.50h0M524.38 664.03h0M524.38 662.37h0M524.38 660.70h0M529.88 622.03h0M529.88 624.01h0M529.88 626.00h0M529.88 638.35h0M529.88 643.64h0M529.88 650.92h0M529.88 665.50h0M529.88 663.22h0M529.88 660.74h0M529.88 658.26h0M529.88 655.77h0M529.88 665.50h0M529.88 664.03h0M529.88 662.37h0M529.88 660.70h0M532.13 633.94h0M532.13 648.94h0M532.13 665.50h0M532.13 663.22h0M532.13 660.74h0M532.13 658.26h0M532.13 655.77h0M532.13 665.50h0M532.13 664.03h0M532.13 662.37h0M532.13 660.70h0M557.17 556.74h0M557.17 584.75h0M557.17 598.65h0M557.17 600.85h0M557.17 609.45h0M557.17 611.66h0M557.17 613.87h0M557.17 616.07h0M557.17 618.28h0M557.17 620.26h0M557.17 665.50h0M557.17 662.94h0M557.17 660.19h0M557.17 657.43h0M557.17 654.67h0M557.17 651.91h0M557.17 649.16h0M557.17 646.40h0M557.17 643.64h0M557.17 665.50h0M557.17 664.03h0M557.17 662.37h0M557.17 660.70h0M563.73 566.44h0M563.73 585.85h0M563.73 612.54h0M563.73 630.85h0M563.73 631.95h0M563.73 665.50h0M563.73 662.94h0M563.73 660.19h0M563.73 657.43h0M563.73 654.67h0M563.73 651.91h0M563.73 649.16h0M563.73 646.40h0M563.73 643.64h0M563.73 665.50h0M563.73 664.03h0M563.73 662.37h0M563.73 660.70h0M592.22 586.96h0M592.22 589.60h0M592.22 592.25h0M592.22 594.90h0M592.22 597.54h0M592.22 608.79h0M592.22 614.75h0M592.22 638.35h0M592.22 665.50h0M592.22 663.05h0M592.22 660.41h0M592.22 657.76h0M592.22 655.11h0M592.22 652.47h0M592.22 649.82h0M592.22 647.17h0M592.22 644.53h0M592.22 641.88h0M592.22 639.23h0M592.22 665.50h0M592.22 664.03h0M592.22 662.37h0M592.22 660.70h0M609.98 566.00h0M609.98 584.75h0M609.98 588.06h0M609.98 594.01h0M609.98 609.45h0M609.98 611.66h0M609.98 627.76h0M609.98 665.50h0M609.98 662.86h0M609.98 660.03h0M609.98 657.19h0M609.98 654.36h0M609.98 651.52h0M609.98 648.68h0M609.98 645.85h0M609.98 665.50h0M609.98 664.03h0M609.98 662.37h0M609.98 660.70h0M619.51 536.45h0M619.51 578.35h0M619.51 580.12h0M619.51 581.88h0M619.51 595.56h0M619.51 619.16h0M619.51 629.75h0M619.51 631.95h0M619.51 639.45h0M619.51 665.50h0M619.51 662.94h0M619.51 660.19h0M619.51 657.43h0M619.51 654.67h0M619.51 651.91h0M619.51 649.16h0M619.51 646.40h0M619.51 643.64h0M619.51 665.50h0M619.51 664.03h0M619.51 662.37h0M619.51 660.70h0M624.42 665.50h0M624.42 663.09h0M624.42 660.49h0M624.42 657.88h0M624.42 655.27h0M624.42 652.67h0M624.42 650.06h0M624.42 647.45h0M624.42 644.85h0M624.42 642.24h0M624.42 639.63h0M624.42 637.03h0M624.42 665.50h0M624.42 664.03h0M624.42 662.37h0M624.42 660.70h0M627.20 524.75h0M627.20 556.74h0M627.20 605.04h0M627.20 615.85h0M627.20 627.76h0M627.20 665.50h0M627.20 662.89h0M627.20 660.09h0M627.20 657.28h0M627.20 654.47h0M627.20 651.66h0M627.20 648.86h0M627.20 646.05h0M627.20 643.24h0M627.20 640.43h0M627.20 637.63h0M627.20 634.82h0M627.20 665.50h0M627.20 664.03h0M627.20 662.37h0M627.20 660.70h0M669.07 613.87h0M669.07 626.00h0M669.07 629.31h0M669.07 636.58h0M669.07 638.35h0M669.07 640.33h0M669.07 665.50h0M669.07 662.94h0M669.07 660.19h0M669.07 657.43h0M669.07 654.67h0M669.07 651.91h0M669.07 649.16h0M669.07 646.40h0M669.07 643.64h0M669.07 665.50h0M669.07 664.03h0M669.07 662.37h0M669.07 660.70h0" fill="none" stroke="#0000ff" stroke-width="2.5" stroke-linecap="round"/></g>
<polyline clip-path="url(#cpl)" fill="none" stroke="#d23a44" stroke-width="1.1" points="491.72,670.77 493.20,670.06 494.68,669.36 496.15,668.67 497.63,667.99 499.11,667.31 500.59,666.65 502.07,665.99 503.55,665.35 505.03,664.71 506.50,664.08 507.98,663.46 509.46,662.85 510.94,662.24 512.42,661.65 513.90,661.06 515.37,660.49 516.85,659.92 518.33,659.36 519.81,658.81 521.29,658.27 522.77,657.73 524.25,657.21 525.72,656.69 527.20,656.19 528.68,655.69 530.16,655.20 531.64,654.72 533.12,654.25 534.59,653.78 536.07,653.33 537.55,652.88 539.03,652.45 540.51,652.02 541.99,651.60 543.47,651.19 544.94,650.79 546.42,650.40 547.90,650.01 549.38,649.64 550.86,649.27 552.34,648.91 553.81,648.56 555.29,648.22 556.77,647.89 558.25,647.57 559.73,647.26 561.21,646.95 562.69,646.65 564.16,646.37 565.64,646.09 567.12,645.82 568.60,645.56 570.08,645.30 571.56,645.06 573.04,644.82 574.51,644.60 575.99,644.38 577.47,644.17 578.95,643.97 580.43,643.78 581.91,643.60 583.38,643.42 584.86,643.26 586.34,643.10 587.82,642.96 589.30,642.82 590.78,642.69 592.26,642.57 593.73,642.45 595.21,642.35 596.69,642.26 598.17,642.17 599.65,642.09 601.13,642.02 602.60,641.96 604.08,641.91 605.56,641.87 607.04,641.84 608.52,641.81 610.00,641.80 611.48,641.79 612.95,641.79 614.43,641.80 615.91,641.82 617.39,641.85 618.87,641.89 620.35,641.93 621.82,641.99 623.30,642.05 624.78,642.12 626.26,642.20 627.74,642.29 629.22,642.39 630.70,642.50 632.17,642.61 633.65,642.74 635.13,642.87 636.61,643.01 638.09,643.16 639.57,643.32 641.05,643.49 642.52,643.67 644.00,643.85 645.48,644.05 646.96,644.25 648.44,644.46 649.92,644.68 651.39,644.91 652.87,645.15 654.35,645.40 655.83,645.65 657.31,645.92 658.79,646.19 660.27,646.47 661.74,646.76 663.22,647.06 664.70,647.37 666.18,647.69 667.66,648.02 669.14,648.35"/>
<rect x="489.4" y="511.3" width="185.50" height="154.40" fill="none" stroke="#3a3a3a" stroke-width="1.1"/>
<path d="M489.40 643.64h3.4M489.40 621.59h3.4M489.40 599.53h3.4M489.40 577.47h3.4M489.40 555.41h3.4M489.40 533.36h3.4M515.90 665.70v-3.6M542.40 665.70v-3.6M568.90 665.70v-3.6M595.40 665.70v-3.6M621.90 665.70v-3.6M648.40 665.70v-3.6" stroke="#3a3a3a" stroke-width="1" fill="none"/>
<text x="485.80" y="671.01" text-anchor="end" font-size="15.7">0</text>
<text x="485.80" y="648.95" text-anchor="end" font-size="15.7">100</text>
<text x="485.80" y="626.89" text-anchor="end" font-size="15.7">200</text>
<text x="485.80" y="604.84" text-anchor="end" font-size="15.7">300</text>
<text x="485.80" y="582.78" text-anchor="end" font-size="15.7">400</text>
<text x="485.80" y="560.72" text-anchor="end" font-size="15.7">500</text>
<text x="485.80" y="538.66" text-anchor="end" font-size="15.7">600</text>
<text x="485.80" y="516.61" text-anchor="end" font-size="15.7">700</text>
<text id="tl" x="493.5" y="523.90" font-size="12.25"><tspan>(l)  Total TDN loss</tspan></text>
<text id="el" x="501.3" y="541.20" font-size="12.5"><tspan>y=-28.6+1.5x-0.004x</tspan><tspan dy="-4.25" font-size="7.5">2</tspan></text>
<text x="501.3" y="560.10" font-size="12.5"><tspan>r</tspan><tspan dy="-4.25" font-size="7.5">2</tspan><tspan dy="4.25">=0.22</tspan></text>
<text x="501.3" y="576.70" font-size="12.5">n=480</text>
<text x="501.3" y="592.3" font-size="12.5">p</text>
<path d="M519.80 584.55L510.05 588.42L519.80 592.30" fill="none" stroke="#111" stroke-width="0.9"/>
<text x="521.00" y="592.3" font-size="12.5">0.001</text>
<text x="62.00" y="679.70" text-anchor="middle" font-size="15.7">0</text>
<text x="88.56" y="679.70" text-anchor="middle" font-size="15.7">40</text>
<text x="115.11" y="679.70" text-anchor="middle" font-size="15.7">80</text>
<text x="141.67" y="679.70" text-anchor="middle" font-size="15.7">120</text>
<text x="168.23" y="679.70" text-anchor="middle" font-size="15.7">160</text>
<text x="194.79" y="679.70" text-anchor="middle" font-size="15.7">200</text>
<text x="221.34" y="679.70" text-anchor="middle" font-size="15.7">240</text>
<text x="247.90" y="679.70" text-anchor="middle" font-size="15.7">280</text>
<text x="276.40" y="679.60" text-anchor="middle" font-size="15.7">0</text>
<text x="302.94" y="679.60" text-anchor="middle" font-size="15.7">40</text>
<text x="329.49" y="679.60" text-anchor="middle" font-size="15.7">80</text>
<text x="356.03" y="679.60" text-anchor="middle" font-size="15.7">120</text>
<text x="382.57" y="679.60" text-anchor="middle" font-size="15.7">160</text>
<text x="409.11" y="679.60" text-anchor="middle" font-size="15.7">200</text>
<text x="435.66" y="679.60" text-anchor="middle" font-size="15.7">240</text>
<text x="462.20" y="679.60" text-anchor="middle" font-size="15.7">280</text>
<text x="488.00" y="681.80" text-anchor="middle" font-size="15.7">0</text>
<text x="514.50" y="681.80" text-anchor="middle" font-size="15.7">40</text>
<text x="541.00" y="681.80" text-anchor="middle" font-size="15.7">80</text>
<text x="567.50" y="681.80" text-anchor="middle" font-size="15.7">120</text>
<text x="594.00" y="681.80" text-anchor="middle" font-size="15.7">160</text>
<text x="620.50" y="681.80" text-anchor="middle" font-size="15.7">200</text>
<text x="647.00" y="681.80" text-anchor="middle" font-size="15.7">240</text>
<text x="673.50" y="681.80" text-anchor="middle" font-size="15.7">280</text>
<text x="0" y="0" transform="translate(14.0 313.6) rotate(-90)" text-anchor="middle" font-size="17.3">N losses (mg·m<tspan font-size="10.5" dy="-6.5">-2</tspan><tspan dy="6.5">)</tspan></text>
<text x="369.5" y="709.5" text-anchor="middle" font-size="17.5">Monthly rainfall (mm)</text>
</svg></body></html>
